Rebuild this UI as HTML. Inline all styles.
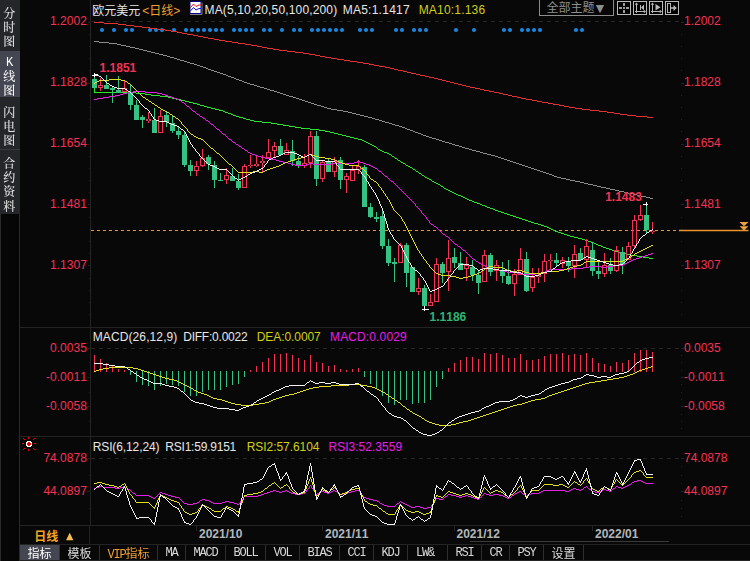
<!DOCTYPE html>
<html lang="zh-CN"><head><meta charset="utf-8"><title>欧元美元 日线</title>
<style>
html,body{margin:0;padding:0;background:#080808;}
body{width:750px;height:561px;position:relative;overflow:hidden;font-family:"Liberation Sans","Noto Sans CJK SC",sans-serif;font-size:12px;color:#e6e6e6;font-kerning:none;}
svg{position:absolute;left:0;top:0}
.t{position:absolute;white-space:nowrap;line-height:14px;height:14px}
.ax{color:#f43354;font-size:12px}
.b{font-weight:bold}
.gr{color:#2fb574}
.dt{color:#b2b6ba;font-weight:bold;font-size:12px}
.side{position:absolute;left:0;top:0;width:20px;height:561px;background:#060606;box-sizing:border-box;border-left:1px solid #2a2a2a;border-right:1px solid #2a2a2a}
.tab{position:absolute;left:0;width:20px;background:#25262a;color:#e4e4e4;font-family:"Noto Serif CJK SC","Liberation Serif",serif;font-size:12px;font-weight:500;line-height:14.2px;text-align:center;text-indent:-1.5px}
.tab>div{filter:grayscale(1)}
.tab span{display:block;height:14.2px}
.tab.sel{background:#444751;color:#fff}
.hd{position:absolute;top:1px;height:15px;line-height:15px;white-space:nowrap;font-size:12px}
.or{color:#f0a030}
.yl{color:#cfcf14}
.mg{color:#e81ee8}
.tb{position:absolute;top:545px;height:16px;line-height:16px;font-family:"Liberation Mono","Noto Serif CJK SC",monospace;font-size:12px;letter-spacing:-1.2px;color:#d8d8d8;text-align:center;box-sizing:border-box;border-right:1px solid #2e2e2e;white-space:nowrap;overflow:hidden}
.tb.cj{font-family:"Noto Sans CJK SC",sans-serif;letter-spacing:0;text-indent:0}
.g{filter:grayscale(1);display:inline-block}
.ng{filter:drop-shadow(0 0 0 transparent);display:inline-block}
.lat{font-family:"Liberation Serif",serif;letter-spacing:0}
</style></head><body>
<svg width="750" height="561" viewBox="0 0 750 561">
<line x1="91" x2="680" y1="21.5" y2="21.5" stroke="#252525" stroke-dasharray="4 4"/>
<line x1="91" x2="680" y1="348.5" y2="348.5" stroke="#252525" stroke-dasharray="4 4"/>
<line x1="91" x2="680" y1="458.5" y2="458.5" stroke="#252525" stroke-dasharray="4 4"/>
<line x1="90.5" x2="90.5" y1="0" y2="525" stroke="#232323"/>
<path d="M88 22.5h2M89 34.5h1M89 46.5h1M89 58.5h1M89 70.5h1M88 83.5h2M89 95.5h1M89 107.5h1M89 119.5h1M89 131.5h1M88 144.5h2M89 156.5h1M89 168.5h1M89 180.5h1M89 192.5h1M88 204.5h2M89 217.5h1M89 229.5h1M89 241.5h1M89 253.5h1M88 265.5h2M89 278.5h1M89 290.5h1M89 302.5h1M89 314.5h1M87 348.5h3M87 377.5h3M87 406.5h3M87 458.5h3M87 491.5h3M89 362.5h1M89 392.5h1M89 421.5h1M89 475.5h1M89 508.5h1" stroke="#1e1e1e" fill="none"/>
<path d="M681 22.5h3M681 34.5h1M681 46.5h1M681 58.5h1M681 70.5h1M681 83.5h3M681 95.5h1M681 107.5h1M681 119.5h1M681 131.5h1M681 144.5h3M681 156.5h1M681 168.5h1M681 180.5h1M681 192.5h1M681 204.5h3M681 217.5h1M681 229.5h1M681 241.5h1M681 253.5h1M681 265.5h3M681 278.5h1M681 290.5h1M681 302.5h1M681 314.5h1M681 348.5h3M681 377.5h3M681 406.5h3M681 458.5h3M681 491.5h3M681 355.5h1M681 362.5h1M681 370.5h1M681 384.5h1M681 392.5h1M681 399.5h1M681 414.5h1M681 421.5h1M681 428.5h1M681 466.5h1M681 475.5h1M681 483.5h1M681 500.5h1M681 508.5h1M681 516.5h1" stroke="#232323" fill="none"/>
<line x1="20" x2="750" y1="327.5" y2="327.5" stroke="#232323"/>
<line x1="20" x2="750" y1="436.5" y2="436.5" stroke="#232323"/>
<line x1="20" x2="750" y1="525.5" y2="525.5" stroke="#232323"/>
<line x1="20" x2="750" y1="544.5" y2="544.5" stroke="#232323"/>
<line x1="470" x2="669" y1="541.5" y2="541.5" stroke="#3a3a3a"/>
<line x1="196.5" x2="196.5" y1="526" y2="531" stroke="#232323"/>
<line x1="322.5" x2="322.5" y1="526" y2="531" stroke="#232323"/>
<line x1="454.5" x2="454.5" y1="526" y2="531" stroke="#232323"/>
<line x1="592.5" x2="592.5" y1="526" y2="531" stroke="#232323"/>
<g fill="#1a86dc"><circle cx="102" cy="30" r="2.1"/><circle cx="114" cy="30" r="2.1"/><circle cx="126" cy="30" r="2.1"/><circle cx="132" cy="30" r="2.1"/><circle cx="150" cy="30" r="2.1"/><circle cx="156" cy="30" r="2.1"/><circle cx="162" cy="30" r="2.1"/><circle cx="174" cy="30" r="2.1"/><circle cx="186" cy="30" r="2.1"/><circle cx="192" cy="30" r="2.1"/><circle cx="198" cy="30" r="2.1"/><circle cx="204" cy="30" r="2.1"/><circle cx="210" cy="30" r="2.1"/><circle cx="216" cy="30" r="2.1"/><circle cx="222" cy="30" r="2.1"/><circle cx="234" cy="30" r="2.1"/><circle cx="240" cy="30" r="2.1"/><circle cx="246" cy="30" r="2.1"/><circle cx="252" cy="30" r="2.1"/><circle cx="264" cy="30" r="2.1"/><circle cx="270" cy="30" r="2.1"/><circle cx="282" cy="30" r="2.1"/><circle cx="294" cy="30" r="2.1"/><circle cx="300" cy="30" r="2.1"/><circle cx="312" cy="30" r="2.1"/><circle cx="318" cy="30" r="2.1"/><circle cx="324" cy="30" r="2.1"/><circle cx="330" cy="30" r="2.1"/><circle cx="336" cy="30" r="2.1"/><circle cx="342" cy="30" r="2.1"/><circle cx="360" cy="30" r="2.1"/><circle cx="366" cy="30" r="2.1"/><circle cx="372" cy="30" r="2.1"/><circle cx="396" cy="30" r="2.1"/><circle cx="402" cy="30" r="2.1"/><circle cx="414" cy="30" r="2.1"/><circle cx="420" cy="30" r="2.1"/><circle cx="426" cy="30" r="2.1"/><circle cx="456" cy="30" r="2.1"/><circle cx="474" cy="30" r="2.1"/><circle cx="504" cy="30" r="2.1"/><circle cx="510" cy="30" r="2.1"/><circle cx="522" cy="30" r="2.1"/><circle cx="528" cy="30" r="2.1"/><circle cx="534" cy="30" r="2.1"/><circle cx="540" cy="30" r="2.1"/><circle cx="576" cy="30" r="2.1"/><circle cx="582" cy="30" r="2.1"/></g>
<line x1="91" x2="679" y1="230.5" y2="230.5" stroke="#e8952f" stroke-dasharray="3 3"/>
<line x1="679" x2="748.5" y1="230.5" y2="230.5" stroke="#e8952f" stroke-width="1.4"/>
<path d="M739.5 222h9l-4.5 4.2zM739.5 226.3h9l-4.5 4.2z" fill="#f0a040"/>
<g shape-rendering="crispEdges">
<path d="M403 71h4v1h-4zM232 42h6v1h-6zM309 54h6v1h-6zM320 56h5v1h-5zM150 28h7v1h-7zM267 48h6v1h-6zM279 50h8v1h-8zM245 44h6v1h-6zM494 92h5v1h-5zM575 108h7v1h-7zM620 114h7v1h-7zM636 116h11v1h-11zM590 110h9v1h-9zM182 33h5v1h-5zM94 22h10v1h-10zM385 67h5v1h-5zM363 63h6v1h-6zM325 57h6v1h-6zM438 79h4v1h-4zM647 117h6v1h-6zM118 24h8v1h-8zM599 111h8v1h-8zM126 25h8v1h-8zM398 70h5v1h-5zM369 64h5v1h-5zM569 107h6v1h-6zM548 103h5v1h-5zM208 38h6v1h-6zM177 32h5v1h-5zM134 26h8v1h-8zM521 98h5v1h-5zM142 27h8v1h-8zM157 29h8v1h-8zM104 23h14v1h-14zM251 45h6v1h-6zM499 93h4v1h-4zM480 89h4v1h-4zM462 85h4v1h-4zM219 40h6v1h-6zM295 52h8v1h-8zM484 90h5v1h-5zM564 106h5v1h-5zM442 80h4v1h-4zM532 100h5v1h-5zM425 76h4v1h-4zM607 112h7v1h-7zM193 35h5v1h-5zM171 31h6v1h-6zM238 43h7v1h-7zM374 65h5v1h-5zM203 37h5v1h-5zM350 61h7v1h-7zM446 81h4v1h-4zM627 115h9v1h-9zM344 60h6v1h-6zM407 72h4v1h-4zM357 62h6v1h-6zM537 101h5v1h-5zM165 30h6v1h-6zM411 73h5v1h-5zM466 86h4v1h-4zM429 77h5v1h-5zM273 49h6v1h-6zM489 91h5v1h-5zM614 113h6v1h-6zM470 87h5v1h-5zM582 109h8v1h-8zM187 34h6v1h-6zM450 82h4v1h-4zM553 104h6v1h-6zM503 94h5v1h-5zM214 39h5v1h-5zM225 41h7v1h-7zM337 59h7v1h-7zM394 69h4v1h-4zM331 58h6v1h-6zM315 55h5v1h-5zM475 88h5v1h-5zM390 68h4v1h-4zM526 99h6v1h-6zM508 95h4v1h-4zM559 105h5v1h-5zM198 36h5v1h-5zM542 102h6v1h-6zM512 96h5v1h-5zM454 83h4v1h-4zM257 46h5v1h-5zM434 78h4v1h-4zM287 51h8v1h-8zM303 53h6v1h-6zM379 66h6v1h-6zM458 84h4v1h-4zM262 47h5v1h-5zM420 75h5v1h-5zM416 74h4v1h-4zM517 97h4v1h-4z" fill="#e8302e"/>
<path d="M244 82h3v1h-3zM99 42h10v1h-10zM584 183h4v1h-4zM566 179h4v1h-4zM421 134h2v1h-2zM143 50h4v1h-4zM236 79h3v1h-3zM504 159h3v1h-3zM327 108h4v1h-4zM606 188h4v1h-4zM588 184h5v1h-5zM163 55h4v1h-4zM549 174h3v1h-3zM395 125h4v1h-4zM228 76h3v1h-3zM423 135h3v1h-3zM459 146h3v1h-3zM507 160h3v1h-3zM274 91h3v1h-3zM540 171h3v1h-3zM126 46h4v1h-4zM385 122h4v1h-4zM167 56h3v1h-3zM203 67h3v1h-3zM231 77h3v1h-3zM94 41h5v1h-5zM368 117h4v1h-4zM296 98h3v1h-3zM543 172h3v1h-3zM130 47h5v1h-5zM610 189h5v1h-5zM109 43h8v1h-8zM389 123h3v1h-3zM432 138h4v1h-4zM480 152h3v1h-3zM206 68h2v1h-2zM247 83h3v1h-3zM516 163h3v1h-3zM546 173h3v1h-3zM392 124h3v1h-3zM197 65h3v1h-3zM436 139h3v1h-3zM270 90h4v1h-4zM519 164h3v1h-3zM343 111h5v1h-5zM593 185h4v1h-4zM575 181h5v1h-5zM646 197h4v1h-4zM151 52h4v1h-4zM510 161h3v1h-3zM483 153h4v1h-4zM308 102h3v1h-3zM170 57h4v1h-4zM402 127h3v1h-3zM465 148h4v1h-4zM513 162h3v1h-3zM299 99h3v1h-3zM557 177h4v1h-4zM280 93h3v1h-3zM135 48h4v1h-4zM208 69h3v1h-3zM302 100h3v1h-3zM570 180h5v1h-5zM147 51h4v1h-4zM439 140h3v1h-3zM552 175h2v1h-2zM399 126h3v1h-3zM372 118h3v1h-3zM650 198h3v1h-3zM214 71h3v1h-3zM462 147h3v1h-3zM177 59h3v1h-3zM277 92h3v1h-3zM250 84h4v1h-4zM352 113h4v1h-4zM628 193h5v1h-5zM331 109h6v1h-6zM180 60h4v1h-4zM375 119h4v1h-4zM159 54h4v1h-4zM491 155h4v1h-4zM314 104h3v1h-3zM522 165h3v1h-3zM356 114h4v1h-4zM554 176h3v1h-3zM615 190h4v1h-4zM597 186h4v1h-4zM217 72h3v1h-3zM472 150h4v1h-4zM174 58h3v1h-3zM405 128h2v1h-2zM289 96h4v1h-4zM220 73h3v1h-3zM155 53h4v1h-4zM283 94h3v1h-3zM487 154h4v1h-4zM211 70h3v1h-3zM117 44h4v1h-4zM379 120h3v1h-3zM469 149h3v1h-3zM337 110h6v1h-6zM442 141h3v1h-3zM257 86h3v1h-3zM525 166h3v1h-3zM360 115h4v1h-4zM619 191h5v1h-5zM601 187h5v1h-5zM187 62h3v1h-3zM382 121h3v1h-3zM415 132h3v1h-3zM445 142h4v1h-4zM498 157h3v1h-3zM528 167h3v1h-3zM580 182h4v1h-4zM561 178h5v1h-5zM633 194h4v1h-4zM407 129h3v1h-3zM190 63h4v1h-4zM223 74h3v1h-3zM501 158h3v1h-3zM286 95h3v1h-3zM317 105h4v1h-4zM410 130h3v1h-3zM226 75h2v1h-2zM476 151h4v1h-4zM413 131h2v1h-2zM184 61h3v1h-3zM495 156h3v1h-3zM449 143h3v1h-3zM264 88h3v1h-3zM531 168h3v1h-3zM139 49h4v1h-4zM194 64h3v1h-3zM452 144h3v1h-3zM534 169h3v1h-3zM321 106h3v1h-3zM641 196h5v1h-5zM239 80h3v1h-3zM293 97h3v1h-3zM234 78h2v1h-2zM324 107h3v1h-3zM426 136h3v1h-3zM418 133h3v1h-3zM537 170h3v1h-3zM121 45h5v1h-5zM455 145h4v1h-4zM429 137h3v1h-3zM305 101h3v1h-3zM200 66h3v1h-3zM242 81h2v1h-2zM364 116h4v1h-4zM624 192h4v1h-4zM348 112h4v1h-4zM311 103h3v1h-3zM260 87h4v1h-4zM254 85h3v1h-3zM637 195h4v1h-4zM267 89h3v1h-3z" fill="#8c8c8c"/>
<path d="M94 88h1v5h-1zM469 200h3v1h-3zM283 125h6v1h-6zM168 97h4v1h-4zM461 196h2v1h-2zM389 154h2v1h-2zM541 225h3v1h-3zM243 118h3v1h-3zM95 92h41v1h-41zM419 173h2v1h-2zM319 130h6v1h-6zM277 124h6v1h-6zM391 155h1v1h-1zM454 193h2v1h-2zM382 151h2v1h-2zM254 121h8v1h-8zM350 137h4v1h-4zM334 133h4v1h-4zM551 229h2v1h-2zM465 198h2v1h-2zM456 194h2v1h-2zM384 152h3v1h-3zM189 102h4v1h-4zM578 238h4v1h-4zM160 96h8v1h-8zM510 215h3v1h-3zM211 108h4v1h-4zM301 128h9v1h-9zM458 195h3v1h-3zM622 253h4v1h-4zM631 255h6v1h-6zM387 153h2v1h-2zM450 191h2v1h-2zM378 149h2v1h-2zM136 93h9v1h-9zM310 129h9v1h-9zM193 103h4v1h-4zM555 231h3v1h-3zM380 150h2v1h-2zM250 120h4v1h-4zM637 256h6v1h-6zM467 199h2v1h-2zM145 94h6v1h-6zM364 141h2v1h-2zM446 189h2v1h-2zM295 127h6v1h-6zM151 95h9v1h-9zM416 171h2v1h-2zM547 227h2v1h-2zM338 134h4v1h-4zM262 122h9v1h-9zM585 240h3v1h-3zM472 201h2v1h-2zM513 216h3v1h-3zM412 168h1v1h-1zM246 119h4v1h-4zM358 139h4v1h-4zM413 169h2v1h-2zM487 207h3v1h-3zM516 217h3v1h-3zM558 232h3v1h-3zM219 110h4v1h-4zM289 126h6v1h-6zM603 247h3v1h-3zM480 204h2v1h-2zM490 208h3v1h-3zM408 166h2v1h-2zM561 233h3v1h-3zM441 186h2v1h-2zM596 244h2v1h-2zM370 144h2v1h-2zM626 254h5v1h-5zM482 205h3v1h-3zM525 220h3v1h-3zM172 98h4v1h-4zM588 241h3v1h-3zM598 245h3v1h-3zM474 202h3v1h-3zM528 221h3v1h-3zM176 99h5v1h-5zM374 146h2v1h-2zM438 184h2v1h-2zM591 242h3v1h-3zM366 142h2v1h-2zM477 203h3v1h-3zM519 218h3v1h-3zM368 143h2v1h-2zM493 209h2v1h-2zM403 163h2v1h-2zM522 219h3v1h-3zM564 234h3v1h-3zM225 112h3v1h-3zM434 182h2v1h-2zM362 140h2v1h-2zM200 105h4v1h-4zM567 235h3v1h-3zM342 135h4v1h-4zM325 131h5v1h-5zM498 211h3v1h-3zM181 100h4v1h-4zM400 161h1v1h-1zM427 178h2v1h-2zM231 114h2v1h-2zM204 106h3v1h-3zM643 257h6v1h-6zM401 162h2v1h-2zM185 101h4v1h-4zM606 248h3v1h-3zM531 222h3v1h-3zM429 179h2v1h-2zM233 115h3v1h-3zM570 236h4v1h-4zM346 136h4v1h-4zM609 249h3v1h-3zM495 210h3v1h-3zM207 107h4v1h-4zM425 177h2v1h-2zM228 113h3v1h-3zM501 212h3v1h-3zM534 223h4v1h-4zM422 175h2v1h-2zM538 224h3v1h-3zM271 123h6v1h-6zM239 117h4v1h-4zM395 158h2v1h-2zM215 109h4v1h-4zM574 237h4v1h-4zM452 192h2v1h-2zM649 258h4v1h-4zM504 213h3v1h-3zM392 156h2v1h-2zM618 252h4v1h-4zM236 116h3v1h-3zM330 132h4v1h-4zM549 228h2v1h-2zM354 138h4v1h-4zM507 214h3v1h-3zM448 190h2v1h-2zM612 250h3v1h-3zM377 148h1v1h-1zM553 230h2v1h-2zM544 226h3v1h-3zM615 251h3v1h-3zM444 188h2v1h-2zM418 172h1v1h-1zM582 239h3v1h-3zM410 167h2v1h-2zM197 104h3v1h-3zM463 197h2v1h-2zM376 147h1v1h-1zM406 165h2v1h-2zM440 185h1v1h-1zM594 243h2v1h-2zM443 187h1v1h-1zM372 145h2v1h-2zM436 183h2v1h-2zM223 111h2v1h-2zM431 180h1v1h-1zM432 181h2v1h-2zM405 164h1v1h-1zM601 246h2v1h-2zM398 160h2v1h-2zM424 176h1v1h-1zM397 159h1v1h-1zM394 157h1v1h-1zM415 170h1v1h-1zM485 206h2v1h-2zM421 174h1v1h-1z" fill="#24ea24"/>
</g>
<path d="M94 73h1v15h-1zM92 79h5v9h-5zM106 75h1v14h-1zM104 85h5v4h-5zM112 87h1v16h-1zM110 88h5v2h-5zM118 76h1v17h-1zM116 90h5v3h-5zM130 85h1v25h-1zM128 92h5v13h-5zM136 100h1v20h-1zM134 105h5v15h-5zM142 115h1v13h-1zM140 117h5v3h-5zM154 108h1v25h-1zM152 120h5v13h-5zM166 112h1v15h-1zM164 115h5v7h-5zM172 116h1v17h-1zM170 123h5v8h-5zM178 127h1v12h-1zM176 131h5v4h-5zM184 132h1v35h-1zM182 135h5v30h-5zM190 160h1v16h-1zM188 165h5v6h-5zM208 155h1v15h-1zM206 157h5v7h-5zM214 161h1v27h-1zM212 165h5v15h-5zM220 173h1v8h-1zM218 180h5v1h-5zM232 168h1v13h-1zM230 176h5v5h-5zM238 174h1v16h-1zM236 181h5v7h-5zM280 139h1v16h-1zM278 146h5v9h-5zM292 140h1v26h-1zM290 151h5v10h-5zM298 156h1v12h-1zM296 161h5v4h-5zM316 131h1v55h-1zM314 136h5v43h-5zM328 159h1v13h-1zM326 161h5v11h-5zM340 157h1v32h-1zM338 160h5v20h-5zM364 165h1v42h-1zM362 167h5v40h-5zM370 203h1v15h-1zM368 207h5v10h-5zM376 212h1v10h-1zM374 217h5v2h-5zM382 210h1v39h-1zM380 216h5v30h-5zM388 239h1v27h-1zM386 246h5v17h-5zM394 258h1v24h-1zM392 262h5v2h-5zM406 243h1v44h-1zM404 245h5v28h-5zM412 267h1v25h-1zM410 267h5v25h-5zM424 285h1v24h-1zM422 288h5v18h-5zM442 262h1v21h-1zM440 264h5v9h-5zM454 248h1v20h-1zM452 257h5v6h-5zM460 252h1v18h-1zM458 263h5v7h-5zM472 260h1v21h-1zM470 267h5v8h-5zM478 270h1v24h-1zM476 275h5v8h-5zM490 253h1v23h-1zM488 255h5v17h-5zM502 262h1v21h-1zM500 270h5v6h-5zM508 260h1v25h-1zM506 276h5v8h-5zM526 252h1v40h-1zM524 259h5v32h-5zM556 253h1v14h-1zM554 260h5v3h-5zM568 257h1v15h-1zM566 261h5v5h-5zM580 248h1v13h-1zM578 253h5v7h-5zM592 242h1v34h-1zM590 250h5v21h-5zM598 262h1v17h-1zM596 271h5v3h-5zM610 258h1v16h-1zM608 265h5v6h-5zM622 247h1v27h-1zM620 252h5v12h-5zM646 204h1v29h-1zM644 215h5v15h-5z" fill="#35c383" shape-rendering="crispEdges"/>
<path d="M100 78h1v7h-1zM100 88h1v3h-1zM98 85h5v3h-5zM99 86v1h3v-1zM124 81h1v7h-1zM122 88h5v4h-5zM123 89v2h3v-2zM148 112h1v11h-1zM146 119h5v2h-5zM160 110h1v6h-1zM158 116h5v17h-5zM159 117v15h3v-15zM196 161h1v5h-1zM196 171h1v5h-1zM194 166h5v5h-5zM195 167v3h3v-3zM202 149h1v9h-1zM202 166h1v1h-1zM200 158h5v8h-5zM201 159v6h3v-6zM226 168h1v7h-1zM226 180h1v4h-1zM224 175h5v5h-5zM225 176v3h3v-3zM244 164h1v2h-1zM242 166h5v22h-5zM243 167v20h3v-20zM250 155h1v13h-1zM248 165h5v1h-5zM256 156h1v11h-1zM254 164h5v2h-5zM262 155h1v17h-1zM260 161h5v2h-5zM268 139h1v13h-1zM266 152h5v6h-5zM267 153v4h3v-4zM274 142h1v4h-1zM274 151h1v6h-1zM272 146h5v5h-5zM273 147v3h3v-3zM286 143h1v7h-1zM284 150h5v5h-5zM285 151v3h3v-3zM304 154h1v9h-1zM304 166h1v2h-1zM302 163h5v3h-5zM303 164v1h3v-1zM310 131h1v5h-1zM310 163h1v5h-1zM308 136h5v27h-5zM309 137v25h3v-25zM322 161h1v1h-1zM322 179h1v3h-1zM320 162h5v17h-5zM321 163v15h3v-15zM334 157h1v4h-1zM334 172h1v5h-1zM332 161h5v11h-5zM333 162v9h3v-9zM346 173h1v3h-1zM346 180h1v13h-1zM344 176h5v4h-5zM345 177v2h3v-2zM352 166h1v4h-1zM350 170h5v11h-5zM351 171v9h3v-9zM358 160h1v6h-1zM358 170h1v4h-1zM356 166h5v4h-5zM357 167v2h3v-2zM400 243h1v2h-1zM398 245h5v18h-5zM399 246v16h3v-16zM418 278h1v10h-1zM418 292h1v3h-1zM416 288h5v4h-5zM417 289v2h3v-2zM430 294h1v8h-1zM428 302h5v4h-5zM429 303v2h3v-2zM436 258h1v6h-1zM434 264h5v38h-5zM435 265v36h3v-36zM448 240h1v18h-1zM448 272h1v19h-1zM446 258h5v14h-5zM447 259v12h3v-12zM466 257h1v8h-1zM466 269h1v12h-1zM464 265h5v4h-5zM465 266v2h3v-2zM484 250h1v5h-1zM482 255h5v27h-5zM483 256v25h3v-25zM496 260h1v5h-1zM496 271h1v10h-1zM494 265h5v6h-5zM495 266v4h3v-4zM514 269h1v5h-1zM514 284h1v12h-1zM512 274h5v10h-5zM513 275v8h3v-8zM520 248h1v11h-1zM518 259h5v16h-5zM519 260v14h3v-14zM532 268h1v9h-1zM532 288h1v4h-1zM530 277h5v11h-5zM531 278v9h3v-9zM538 268h1v15h-1zM536 275h5v2h-5zM544 254h1v7h-1zM544 274h1v8h-1zM542 261h5v13h-5zM543 262v11h3v-11zM550 254h1v16h-1zM548 260h5v1h-5zM562 257h1v3h-1zM562 264h1v4h-1zM560 260h5v4h-5zM561 261v2h3v-2zM574 245h1v9h-1zM574 266h1v12h-1zM572 254h5v12h-5zM573 255v10h3v-10zM586 239h1v7h-1zM586 260h1v7h-1zM584 246h5v14h-5zM585 247v12h3v-12zM604 253h1v12h-1zM604 274h1v3h-1zM602 265h5v9h-5zM603 266v7h3v-7zM616 246h1v4h-1zM616 271h1v1h-1zM614 250h5v21h-5zM615 251v19h3v-19zM628 242h1v4h-1zM626 246h5v14h-5zM627 247v12h3v-12zM634 215h1v5h-1zM634 246h1v3h-1zM632 220h5v26h-5zM633 221v24h3v-24zM640 205h1v10h-1zM640 220h1v1h-1zM638 215h5v5h-5zM639 216v3h3v-3zM652 222h1v12h-1zM650 231h5v1h-5z" fill="#f43354" fill-rule="evenodd" shape-rendering="crispEdges"/>
<g shape-rendering="crispEdges">
<path d="M415 204h1v2h-1zM421 211h1v2h-1zM426 217h1v2h-1zM429 221h1v2h-1zM115 95h5v1h-5zM165 95h3v1h-3zM517 273h6v1h-6zM535 273h6v1h-6zM123 93h4v1h-4zM157 93h5v1h-5zM295 165h11v1h-11zM369 165h2v1h-2zM489 268h4v1h-4zM571 268h12v1h-12zM523 274h12v1h-12zM441 232h1v1h-1zM120 94h3v1h-3zM162 94h3v1h-3zM452 241h1v1h-1zM288 163h3v1h-3zM309 163h4v1h-4zM331 163h23v1h-23zM363 163h3v1h-3zM258 156h3v1h-3zM423 214h1v1h-1zM197 114h2v1h-2zM382 173h1v1h-1zM504 271h3v1h-3zM545 271h2v1h-2zM200 116h2v1h-2zM453 242h1v1h-1zM483 265h2v1h-2zM613 265h10v1h-10zM127 92h6v1h-6zM145 92h12v1h-12zM485 266h2v1h-2zM589 266h12v1h-12zM607 266h6v1h-6zM394 183h1v1h-1zM94 99h3v1h-3zM177 99h2v1h-2zM261 157h4v1h-4zM467 253h1v1h-1zM651 253h2v1h-2zM493 269h6v1h-6zM549 269h22v1h-22zM478 262h1v1h-1zM627 262h2v1h-2zM469 255h1v1h-1zM645 255h3v1h-3zM487 267h2v1h-2zM583 267h6v1h-6zM601 267h6v1h-6zM109 96h6v1h-6zM168 96h3v1h-3zM252 154h3v1h-3zM479 263h2v1h-2zM625 263h2v1h-2zM245 150h2v1h-2zM291 164h4v1h-4zM306 164h3v1h-3zM313 164h18v1h-18zM366 164h3v1h-3zM276 160h3v1h-3zM283 162h5v1h-5zM354 162h3v1h-3zM360 162h3v1h-3zM476 261h2v1h-2zM629 261h2v1h-2zM103 97h6v1h-6zM171 97h3v1h-3zM255 155h3v1h-3zM481 264h2v1h-2zM623 264h2v1h-2zM133 91h12v1h-12zM242 148h2v1h-2zM378 170h1v1h-1zM223 134h2v1h-2zM265 158h6v1h-6zM393 182h1v1h-1zM179 100h2v1h-2zM279 161h4v1h-4zM357 161h3v1h-3zM468 254h1v1h-1zM648 254h3v1h-3zM400 189h1v1h-1zM182 102h2v1h-2zM97 98h6v1h-6zM174 98h3v1h-3zM422 213h1v1h-1zM463 250h2v1h-2zM473 259h2v1h-2zM633 259h3v1h-3zM407 196h1v1h-1zM211 124h2v1h-2zM408 197h1v1h-1zM472 258h1v1h-1zM636 258h3v1h-3zM507 272h10v1h-10zM541 272h4v1h-4zM238 145h1v1h-1zM373 167h2v1h-2zM385 176h2v1h-2zM388 178h1v1h-1zM470 256h1v1h-1zM642 256h3v1h-3zM436 227h1v1h-1zM389 179h1v1h-1zM437 228h1v1h-1zM448 237h1v1h-1zM208 121h1v1h-1zM189 107h1v1h-1zM203 118h2v1h-2zM233 142h2v1h-2zM458 246h2v1h-2zM499 270h5v1h-5zM547 270h2v1h-2zM414 203h1v1h-1zM229 139h2v1h-2zM248 152h2v1h-2zM206 120h2v1h-2zM217 129h2v1h-2zM446 236h2v1h-2zM271 159h5v1h-5zM219 130h1v1h-1zM443 234h2v1h-2zM454 243h1v1h-1zM384 175h1v1h-1zM431 224h2v1h-2zM395 184h1v1h-1zM471 257h1v1h-1zM639 257h3v1h-3zM402 191h1v1h-1zM185 104h1v1h-1zM187 106h2v1h-2zM424 215h1v1h-1zM199 115h1v1h-1zM250 153h2v1h-2zM425 216h1v1h-1zM244 149h1v1h-1zM247 151h1v1h-1zM214 126h1v1h-1zM239 146h2v1h-2zM416 206h1v1h-1zM417 207h1v1h-1zM184 103h1v1h-1zM379 171h2v1h-2zM390 180h1v1h-1zM391 181h2v1h-2zM475 260h1v1h-1zM631 260h2v1h-2zM210 123h1v1h-1zM213 125h1v1h-1zM465 251h1v1h-1zM409 198h1v1h-1zM193 111h2v1h-2zM225 135h1v1h-1zM401 190h1v1h-1zM195 112h1v1h-1zM438 229h1v1h-1zM449 238h1v1h-1zM427 219h1v1h-1zM371 166h2v1h-2zM235 143h1v1h-1zM375 168h2v1h-2zM209 122h1v1h-1zM220 131h1v1h-1zM190 108h1v1h-1zM433 225h1v1h-1zM434 226h2v1h-2zM397 186h1v1h-1zM445 235h1v1h-1zM205 119h1v1h-1zM231 140h1v1h-1zM419 209h1v1h-1zM460 247h1v1h-1zM404 193h1v1h-1zM455 244h2v1h-2zM396 185h1v1h-1zM215 127h1v1h-1zM216 128h1v1h-1zM227 137h1v1h-1zM403 192h1v1h-1zM186 105h1v1h-1zM440 231h1v1h-1zM410 199h1v1h-1zM381 172h1v1h-1zM411 200h1v1h-1zM466 252h1v1h-1zM418 208h1v1h-1zM196 113h1v1h-1zM241 147h1v1h-1zM428 220h1v1h-1zM222 133h1v1h-1zM181 101h1v1h-1zM236 144h2v1h-2zM226 136h1v1h-1zM439 230h1v1h-1zM377 169h1v1h-1zM450 239h1v1h-1zM461 248h1v1h-1zM451 240h1v1h-1zM462 249h1v1h-1zM191 109h1v1h-1zM192 110h1v1h-1zM398 187h1v1h-1zM399 188h1v1h-1zM221 132h1v1h-1zM232 141h1v1h-1zM406 195h1v1h-1zM457 245h1v1h-1zM387 177h1v1h-1zM420 210h1v1h-1zM405 194h1v1h-1zM430 223h1v1h-1zM202 117h1v1h-1zM442 233h1v1h-1zM412 201h1v1h-1zM383 174h1v1h-1zM413 202h1v1h-1zM228 138h1v1h-1z" fill="#e81ee8"/>
<path d="M414 242h1v2h-1zM411 236h1v2h-1zM378 184h1v2h-1zM407 228h1v2h-1zM429 265h1v2h-1zM381 188h1v2h-1zM410 234h1v2h-1zM385 194h1v2h-1zM366 172h1v2h-1zM406 226h1v2h-1zM402 219h1v2h-1zM181 122h1v2h-1zM392 206h1v2h-1zM409 232h1v2h-1zM369 176h1v2h-1zM383 191h1v2h-1zM391 204h1v2h-1zM405 224h1v2h-1zM426 261h1v2h-1zM416 246h1v2h-1zM387 197h1v2h-1zM408 230h1v2h-1zM390 202h1v2h-1zM401 217h1v2h-1zM404 222h1v2h-1zM419 251h1v2h-1zM393 208h1v2h-1zM415 244h1v2h-1zM389 200h1v2h-1zM417 248h1v2h-1zM421 254h1v2h-1zM423 257h1v2h-1zM413 240h1v2h-1zM187 129h1v2h-1zM412 238h1v2h-1zM97 81h2v1h-2zM125 81h2v1h-2zM489 266h4v1h-4zM573 266h4v1h-4zM226 161h1v1h-1zM288 161h3v1h-3zM337 161h2v1h-2zM227 162h1v1h-1zM285 162h3v1h-3zM339 162h3v1h-3zM434 271h1v1h-1zM481 271h1v1h-1zM511 271h6v1h-6zM522 271h3v1h-3zM547 271h12v1h-12zM99 80h10v1h-10zM121 80h4v1h-4zM233 167h1v1h-1zM273 167h3v1h-3zM360 167h1v1h-1zM224 159h1v1h-1zM294 159h3v1h-3zM331 159h4v1h-4zM436 273h2v1h-2zM477 273h2v1h-2zM529 273h12v1h-12zM235 169h1v1h-1zM267 169h3v1h-3zM363 169h1v1h-1zM430 267h1v1h-1zM487 267h2v1h-2zM493 267h10v1h-10zM570 267h3v1h-3zM634 254h1v1h-1zM438 274h3v1h-3zM474 274h3v1h-3zM586 261h37v1h-37zM189 132h1v1h-1zM441 275h10v1h-10zM471 275h3v1h-3zM584 262h2v1h-2zM435 272h1v1h-1zM479 272h2v1h-2zM525 272h4v1h-4zM541 272h6v1h-6zM190 133h1v1h-1zM237 171h1v1h-1zM253 171h6v1h-6zM263 171h2v1h-2zM365 171h1v1h-1zM231 165h1v1h-1zM279 165h2v1h-2zM349 165h10v1h-10zM433 270h1v1h-1zM482 270h2v1h-2zM507 270h4v1h-4zM517 270h5v1h-5zM559 270h5v1h-5zM211 148h2v1h-2zM109 79h12v1h-12zM175 117h1v1h-1zM238 172h15v1h-15zM259 172h4v1h-4zM223 158h1v1h-1zM297 158h4v1h-4zM325 158h6v1h-6zM431 268h1v1h-1zM485 268h2v1h-2zM503 268h2v1h-2zM567 268h3v1h-3zM228 163h1v1h-1zM283 163h2v1h-2zM342 163h3v1h-3zM232 166h1v1h-1zM276 166h3v1h-3zM359 166h1v1h-1zM425 260h1v1h-1zM623 260h2v1h-2zM182 124h1v1h-1zM424 259h1v1h-1zM625 259h2v1h-2zM143 97h2v1h-2zM451 276h5v1h-5zM468 276h3v1h-3zM145 98h1v1h-1zM208 145h1v1h-1zM382 190h1v1h-1zM222 157h1v1h-1zM301 157h4v1h-4zM319 157h6v1h-6zM367 174h1v1h-1zM221 156h1v1h-1zM305 156h2v1h-2zM315 156h4v1h-4zM649 246h2v1h-2zM374 181h2v1h-2zM217 153h2v1h-2zM456 277h3v1h-3zM463 277h5v1h-5zM229 164h2v1h-2zM281 164h2v1h-2zM345 164h4v1h-4zM219 154h1v1h-1zM309 154h3v1h-3zM170 114h2v1h-2zM163 110h2v1h-2zM428 264h1v1h-1zM581 264h2v1h-2zM133 87h1v1h-1zM236 170h1v1h-1zM265 170h2v1h-2zM364 170h1v1h-1zM399 215h1v1h-1zM165 111h2v1h-2zM167 112h2v1h-2zM403 221h1v1h-1zM373 180h1v1h-1zM140 94h1v1h-1zM645 248h2v1h-2zM432 269h1v1h-1zM484 269h1v1h-1zM505 269h2v1h-2zM564 269h3v1h-3zM141 95h1v1h-1zM418 250h1v1h-1zM641 250h2v1h-2zM95 82h2v1h-2zM127 82h1v1h-1zM225 160h1v1h-1zM291 160h3v1h-3zM335 160h2v1h-2zM459 278h4v1h-4zM214 150h1v1h-1zM220 155h1v1h-1zM307 155h2v1h-2zM312 155h3v1h-3zM94 83h1v1h-1zM128 83h2v1h-2zM180 121h1v1h-1zM158 107h2v1h-2zM632 255h2v1h-2zM234 168h1v1h-1zM270 168h3v1h-3zM361 168h2v1h-2zM427 263h1v1h-1zM583 263h1v1h-1zM151 102h1v1h-1zM203 140h1v1h-1zM637 252h2v1h-2zM154 104h1v1h-1zM629 257h2v1h-2zM380 187h1v1h-1zM155 105h2v1h-2zM384 193h1v1h-1zM198 138h3v1h-3zM191 134h2v1h-2zM210 147h1v1h-1zM213 149h1v1h-1zM201 139h2v1h-2zM194 136h2v1h-2zM577 265h4v1h-4zM394 210h1v1h-1zM647 247h2v1h-2zM172 115h1v1h-1zM184 126h1v1h-1zM173 116h2v1h-2zM146 99h2v1h-2zM176 118h2v1h-2zM135 89h1v1h-1zM651 245h2v1h-2zM149 101h2v1h-2zM183 125h1v1h-1zM209 146h1v1h-1zM643 249h2v1h-2zM386 196h1v1h-1zM134 88h1v1h-1zM368 175h1v1h-1zM639 251h2v1h-2zM400 216h1v1h-1zM160 108h1v1h-1zM142 96h1v1h-1zM422 256h1v1h-1zM631 256h1v1h-1zM420 253h1v1h-1zM635 253h2v1h-2zM627 258h2v1h-2zM371 179h2v1h-2zM215 151h1v1h-1zM216 152h1v1h-1zM370 178h1v1h-1zM152 103h2v1h-2zM204 141h1v1h-1zM196 137h2v1h-2zM185 127h1v1h-1zM395 211h1v1h-1zM186 128h1v1h-1zM130 84h1v1h-1zM388 199h1v1h-1zM396 212h1v1h-1zM193 135h1v1h-1zM137 91h1v1h-1zM178 119h1v1h-1zM136 90h1v1h-1zM148 100h1v1h-1zM377 183h1v1h-1zM169 113h1v1h-1zM161 109h2v1h-2zM206 143h1v1h-1zM376 182h1v1h-1zM188 131h1v1h-1zM207 144h1v1h-1zM132 86h1v1h-1zM398 214h1v1h-1zM139 93h1v1h-1zM205 142h1v1h-1zM131 85h1v1h-1zM157 106h1v1h-1zM397 213h1v1h-1zM179 120h1v1h-1zM379 186h1v1h-1zM138 92h1v1h-1z" fill="#e0e01a"/>
<path d="M385 218h1v3h-1zM375 193h1v2h-1zM444 283h1v2h-1zM639 239h1v2h-1zM389 230h1v2h-1zM402 248h1v2h-1zM382 208h1v3h-1zM189 140h1v2h-1zM635 246h1v2h-1zM403 250h1v2h-1zM190 142h1v2h-1zM428 287h1v2h-1zM392 235h1v2h-1zM447 279h1v2h-1zM336 163h1v2h-1zM388 228h1v2h-1zM638 241h1v2h-1zM381 206h1v2h-1zM186 134h1v2h-1zM425 281h1v2h-1zM264 165h1v2h-1zM405 254h1v2h-1zM192 145h1v2h-1zM427 285h1v2h-1zM630 254h1v2h-1zM185 132h1v2h-1zM420 274h1v2h-1zM376 195h1v2h-1zM423 278h1v2h-1zM384 214h1v4h-1zM139 101h1v2h-1zM267 161h1v2h-1zM387 224h1v4h-1zM390 232h1v2h-1zM339 167h1v2h-1zM383 211h1v3h-1zM188 138h1v2h-1zM629 256h1v2h-1zM380 204h1v2h-1zM187 136h1v2h-1zM195 149h1v2h-1zM361 172h1v2h-1zM401 246h1v2h-1zM633 249h1v2h-1zM426 283h1v2h-1zM393 237h1v2h-1zM379 201h1v3h-1zM429 289h1v2h-1zM408 260h1v2h-1zM632 251h1v2h-1zM636 244h1v2h-1zM411 265h1v2h-1zM407 258h1v2h-1zM149 111h1v2h-1zM378 199h1v2h-1zM410 263h1v2h-1zM406 256h1v2h-1zM366 179h1v2h-1zM151 114h1v2h-1zM369 184h1v2h-1zM377 197h1v2h-1zM199 154h1v2h-1zM365 177h1v2h-1zM373 190h1v2h-1zM450 275h1v2h-1zM386 221h1v3h-1zM453 271h1v2h-1zM404 252h1v2h-1zM368 182h1v2h-1zM153 117h1v2h-1zM371 187h1v2h-1zM201 157h1v1h-1zM273 157h3v1h-3zM303 157h2v1h-2zM313 157h1v1h-1zM159 121h8v1h-8zM581 259h2v1h-2zM594 259h3v1h-3zM627 259h1v1h-1zM197 152h1v1h-1zM285 152h9v1h-9zM413 268h1v1h-1zM456 268h1v1h-1zM475 268h2v1h-2zM483 268h10v1h-10zM553 268h2v1h-2zM460 264h9v1h-9zM559 264h1v1h-1zM609 264h4v1h-4zM619 264h4v1h-4zM451 274h1v1h-1zM523 274h1v1h-1zM539 274h2v1h-2zM571 260h10v1h-10zM597 260h3v1h-3zM626 260h1v1h-1zM104 80h1v1h-1zM215 167h2v1h-2zM263 167h1v1h-1zM399 244h1v1h-1zM145 108h2v1h-2zM524 275h2v1h-2zM535 275h4v1h-4zM202 158h1v1h-1zM271 158h2v1h-2zM314 158h1v1h-1zM414 269h1v1h-1zM455 269h1v1h-1zM477 269h1v1h-1zM480 269h3v1h-3zM493 269h6v1h-6zM552 269h1v1h-1zM208 164h2v1h-2zM265 164h1v1h-1zM565 261h6v1h-6zM600 261h3v1h-3zM625 261h1v1h-1zM231 174h1v1h-1zM248 174h2v1h-2zM362 174h1v1h-1zM130 92h1v1h-1zM418 272h1v1h-1zM513 272h8v1h-8zM543 272h4v1h-4zM421 276h1v1h-1zM526 276h9v1h-9zM200 156h1v1h-1zM276 156h3v1h-3zM301 156h2v1h-2zM305 156h2v1h-2zM312 156h1v1h-1zM583 258h1v1h-1zM591 258h3v1h-3zM628 258h1v1h-1zM219 169h8v1h-8zM259 169h2v1h-2zM340 169h19v1h-19zM181 129h2v1h-2zM210 165h3v1h-3zM337 165h1v1h-1zM117 88h8v1h-8zM650 230h2v1h-2zM412 267h1v1h-1zM457 267h1v1h-1zM474 267h1v1h-1zM555 267h1v1h-1zM137 99h1v1h-1zM631 253h1v1h-1zM125 89h2v1h-2zM169 123h2v1h-2zM138 100h1v1h-1zM584 257h2v1h-2zM588 257h3v1h-3zM432 290h3v1h-3zM204 160h1v1h-1zM268 160h1v1h-1zM316 160h9v1h-9zM171 124h3v1h-3zM409 262h1v1h-1zM562 262h3v1h-3zM603 262h3v1h-3zM624 262h1v1h-1zM205 161h1v1h-1zM325 161h10v1h-10zM174 125h3v1h-3zM560 263h2v1h-2zM606 263h3v1h-3zM623 263h1v1h-1zM233 176h1v1h-1zM245 176h2v1h-2zM364 176h1v1h-1zM193 147h1v1h-1zM415 270h2v1h-2zM454 270h1v1h-1zM478 270h2v1h-2zM499 270h11v1h-11zM551 270h1v1h-1zM167 122h2v1h-2zM99 76h2v1h-2zM235 178h2v1h-2zM241 178h2v1h-2zM227 170h1v1h-1zM257 170h2v1h-2zM359 170h1v1h-1zM419 273h1v1h-1zM452 273h1v1h-1zM521 273h2v1h-2zM541 273h2v1h-2zM279 155h2v1h-2zM299 155h2v1h-2zM307 155h2v1h-2zM311 155h1v1h-1zM228 171h1v1h-1zM255 171h2v1h-2zM360 171h1v1h-1zM94 74h2v1h-2zM114 87h3v1h-3zM391 234h1v1h-1zM645 234h1v1h-1zM229 172h1v1h-1zM252 172h3v1h-3zM634 248h1v1h-1zM417 271h1v1h-1zM510 271h3v1h-3zM547 271h4v1h-4zM96 75h3v1h-3zM177 126h2v1h-2zM230 173h1v1h-1zM250 173h2v1h-2zM395 240h1v1h-1zM110 85h2v1h-2zM281 154h2v1h-2zM297 154h2v1h-2zM309 154h2v1h-2zM641 237h1v1h-1zM443 285h1v1h-1zM424 280h1v1h-1zM394 239h1v1h-1zM140 103h1v1h-1zM112 86h2v1h-2zM234 177h1v1h-1zM243 177h2v1h-2zM203 159h1v1h-1zM269 159h2v1h-2zM315 159h1v1h-1zM458 266h1v1h-1zM473 266h1v1h-1zM556 266h1v1h-1zM106 82h1v1h-1zM156 120h3v1h-3zM459 265h1v1h-1zM469 265h4v1h-4zM557 265h2v1h-2zM613 265h6v1h-6zM191 144h1v1h-1zM446 281h1v1h-1zM132 94h1v1h-1zM422 277h1v1h-1zM449 277h1v1h-1zM649 231h1v1h-1zM430 291h2v1h-2zM586 256h2v1h-2zM439 287h2v1h-2zM154 119h2v1h-2zM237 179h1v1h-1zM239 179h2v1h-2zM398 243h1v1h-1zM637 243h1v1h-1zM147 109h1v1h-1zM184 131h1v1h-1zM105 81h1v1h-1zM127 90h1v1h-1zM441 286h2v1h-2zM128 91h2v1h-2zM213 166h2v1h-2zM338 166h1v1h-1zM232 175h1v1h-1zM247 175h1v1h-1zM363 175h1v1h-1zM183 130h1v1h-1zM194 148h1v1h-1zM101 77h1v1h-1zM437 288h2v1h-2zM640 238h1v1h-1zM179 127h1v1h-1zM445 282h1v1h-1zM207 163h1v1h-1zM266 163h1v1h-1zM643 235h2v1h-2zM198 153h1v1h-1zM283 153h2v1h-2zM294 153h3v1h-3zM647 232h2v1h-2zM396 241h1v1h-1zM142 105h1v1h-1zM448 278h1v1h-1zM435 289h2v1h-2zM134 96h1v1h-1zM141 104h1v1h-1zM107 83h2v1h-2zM217 168h2v1h-2zM261 168h2v1h-2zM133 95h1v1h-1zM196 151h1v1h-1zM238 180h1v1h-1zM367 181h1v1h-1zM148 110h1v1h-1zM152 116h1v1h-1zM370 186h1v1h-1zM642 236h1v1h-1zM144 107h1v1h-1zM102 78h1v1h-1zM143 106h1v1h-1zM103 79h1v1h-1zM206 162h1v1h-1zM335 162h1v1h-1zM180 128h1v1h-1zM397 242h1v1h-1zM135 97h1v1h-1zM136 98h1v1h-1zM150 113h1v1h-1zM372 189h1v1h-1zM652 229h1v1h-1zM109 84h1v1h-1zM131 93h1v1h-1zM400 245h1v1h-1zM374 192h1v1h-1zM646 233h1v1h-1z" fill="#f0f0f0"/>
</g>
<path d="M92 75.5h4M94.5 73v4M95 74.5h3M643 204.5h5M646.5 202v4M422 309.5h7M424.5 306v5" stroke="#fff" fill="none" shape-rendering="crispEdges"/>
<path d="M130 371h1v4h-1zM136 371h1v11h-1zM142 371h1v14h-1zM148 371h1v15h-1zM154 371h1v19h-1zM160 371h1v15h-1zM166 371h1v13h-1zM172 371h1v14h-1zM178 371h1v15h-1zM184 371h1v21h-1zM190 371h1v25h-1zM196 371h1v25h-1zM202 371h1v21h-1zM208 371h1v19h-1zM214 371h1v19h-1zM220 371h1v19h-1zM226 371h1v16h-1zM232 371h1v14h-1zM238 371h1v13h-1zM244 371h1v6h-1zM364 371h1v6h-1zM370 371h1v13h-1zM376 371h1v17h-1zM382 371h1v25h-1zM388 371h1v32h-1zM394 371h1v34h-1zM400 371h1v29h-1zM406 371h1v29h-1zM412 371h1v33h-1zM418 371h1v32h-1zM424 371h1v32h-1zM430 371h1v29h-1zM436 371h1v16h-1zM442 371h1v8h-1z" fill="#35c383" shape-rendering="crispEdges"/>
<path d="M94 355h1v17h-1zM100 359h1v13h-1zM106 363h1v9h-1zM112 366h1v6h-1zM118 369h1v3h-1zM124 370h1v2h-1zM250 370h1v2h-1zM256 366h1v6h-1zM262 362h1v10h-1zM268 358h1v14h-1zM274 354h1v18h-1zM280 354h1v18h-1zM286 353h1v19h-1zM292 355h1v17h-1zM298 358h1v14h-1zM304 360h1v12h-1zM310 355h1v17h-1zM316 362h1v10h-1zM322 363h1v9h-1zM328 366h1v6h-1zM334 365h1v7h-1zM340 369h1v3h-1zM346 370h1v2h-1zM352 369h1v3h-1zM358 368h1v4h-1zM448 368h1v4h-1zM454 363h1v9h-1zM460 360h1v12h-1zM466 357h1v15h-1zM472 357h1v15h-1zM478 359h1v13h-1zM484 353h1v19h-1zM490 354h1v18h-1zM496 353h1v19h-1zM502 355h1v17h-1zM508 358h1v14h-1zM514 358h1v14h-1zM520 354h1v18h-1zM526 360h1v12h-1zM532 360h1v12h-1zM538 359h1v13h-1zM544 356h1v16h-1zM550 354h1v18h-1zM556 354h1v18h-1zM562 353h1v19h-1zM568 355h1v17h-1zM574 354h1v18h-1zM580 355h1v17h-1zM586 353h1v19h-1zM592 358h1v14h-1zM598 363h1v9h-1zM604 364h1v8h-1zM610 366h1v6h-1zM616 362h1v10h-1zM622 363h1v9h-1zM628 360h1v12h-1zM634 353h1v19h-1zM640 350h1v22h-1zM646 350h1v22h-1zM652 352h1v20h-1z" fill="#f43354" shape-rendering="crispEdges"/>
<g shape-rendering="crispEdges">
<path d="M241 405h12v1h-12zM402 405h1v1h-1zM513 405h4v1h-4zM217 399h5v1h-5zM273 399h3v1h-3zM394 399h1v1h-1zM535 399h6v1h-6zM179 382h2v1h-2zM589 382h6v1h-6zM407 409h2v1h-2zM501 409h3v1h-3zM651 366h2v1h-2zM435 424h4v1h-4zM451 424h5v1h-5zM185 385h2v1h-2zM331 385h18v1h-18zM361 385h6v1h-6zM579 385h3v1h-3zM162 377h3v1h-3zM619 377h5v1h-5zM187 386h2v1h-2zM319 386h12v1h-12zM367 386h5v1h-5zM576 386h3v1h-3zM410 411h2v1h-2zM495 411h3v1h-3zM422 418h2v1h-2zM474 418h3v1h-3zM103 368h6v1h-6zM133 368h5v1h-5zM645 368h3v1h-3zM196 391h2v1h-2zM300 391h3v1h-3zM381 391h2v1h-2zM561 391h3v1h-3zM413 413h2v1h-2zM489 413h3v1h-3zM147 372h3v1h-3zM635 372h2v1h-2zM213 398h4v1h-4zM276 398h3v1h-3zM392 398h2v1h-2zM541 398h4v1h-4zM169 379h5v1h-5zM607 379h6v1h-6zM183 384h2v1h-2zM349 384h12v1h-12zM582 384h3v1h-3zM189 387h2v1h-2zM313 387h6v1h-6zM372 387h3v1h-3zM573 387h3v1h-3zM109 367h24v1h-24zM648 367h3v1h-3zM409 410h1v1h-1zM498 410h3v1h-3zM177 381h2v1h-2zM595 381h6v1h-6zM201 393h3v1h-3zM294 393h3v1h-3zM385 393h1v1h-1zM555 393h3v1h-3zM417 415h2v1h-2zM483 415h3v1h-3zM209 396h2v1h-2zM282 396h3v1h-3zM389 396h2v1h-2zM547 396h2v1h-2zM419 416h2v1h-2zM480 416h3v1h-3zM193 389h1v1h-1zM306 389h3v1h-3zM377 389h2v1h-2zM567 389h3v1h-3zM99 369h4v1h-4zM138 369h3v1h-3zM642 369h3v1h-3zM211 397h2v1h-2zM279 397h3v1h-3zM391 397h1v1h-1zM545 397h2v1h-2zM228 402h3v1h-3zM265 402h4v1h-4zM398 402h2v1h-2zM525 402h3v1h-3zM225 401h3v1h-3zM269 401h2v1h-2zM397 401h1v1h-1zM528 401h3v1h-3zM412 412h1v1h-1zM492 412h3v1h-3zM235 404h6v1h-6zM253 404h6v1h-6zM401 404h1v1h-1zM517 404h5v1h-5zM406 408h1v1h-1zM504 408h3v1h-3zM425 420h2v1h-2zM468 420h3v1h-3zM153 374h3v1h-3zM630 374h3v1h-3zM231 403h4v1h-4zM259 403h6v1h-6zM400 403h1v1h-1zM522 403h3v1h-3zM94 371h2v1h-2zM144 371h3v1h-3zM637 371h2v1h-2zM165 378h4v1h-4zM613 378h6v1h-6zM432 423h3v1h-3zM456 423h3v1h-3zM439 425h12v1h-12zM198 392h3v1h-3zM297 392h3v1h-3zM383 392h2v1h-2zM558 392h3v1h-3zM96 370h3v1h-3zM141 370h3v1h-3zM639 370h3v1h-3zM415 414h2v1h-2zM486 414h3v1h-3zM405 407h1v1h-1zM507 407h3v1h-3zM427 421h2v1h-2zM463 421h5v1h-5zM204 394h3v1h-3zM289 394h5v1h-5zM386 394h2v1h-2zM552 394h3v1h-3zM181 383h2v1h-2zM585 383h4v1h-4zM403 406h2v1h-2zM510 406h3v1h-3zM194 390h2v1h-2zM303 390h3v1h-3zM379 390h2v1h-2zM564 390h3v1h-3zM150 373h3v1h-3zM633 373h2v1h-2zM174 380h3v1h-3zM601 380h6v1h-6zM156 375h3v1h-3zM627 375h3v1h-3zM191 388h2v1h-2zM309 388h4v1h-4zM375 388h2v1h-2zM570 388h3v1h-3zM207 395h2v1h-2zM285 395h4v1h-4zM388 395h1v1h-1zM549 395h3v1h-3zM429 422h3v1h-3zM459 422h4v1h-4zM421 417h1v1h-1zM477 417h3v1h-3zM424 419h1v1h-1zM471 419h3v1h-3zM222 400h3v1h-3zM271 400h2v1h-2zM395 400h2v1h-2zM531 400h4v1h-4zM159 376h3v1h-3zM624 376h3v1h-3z" fill="#e0e01a"/>
<path d="M381 403h1v2h-1zM385 408h1v2h-1zM378 399h1v2h-1zM179 389h1v1h-1zM279 389h2v1h-2zM365 389h1v1h-1zM545 389h2v1h-2zM649 357h4v1h-4zM409 424h1v1h-1zM447 424h1v1h-1zM217 408h12v1h-12zM241 408h2v1h-2zM482 408h2v1h-2zM165 385h4v1h-4zM289 385h16v1h-16zM360 385h1v1h-1zM555 385h3v1h-3zM137 375h2v1h-2zM584 375h2v1h-2zM589 375h5v1h-5zM613 375h2v1h-2zM193 401h2v1h-2zM256 401h1v1h-1zM379 401h1v1h-1zM499 401h11v1h-11zM183 392h1v1h-1zM272 392h2v1h-2zM369 392h1v1h-1zM541 392h1v1h-1zM195 402h4v1h-4zM254 402h2v1h-2zM380 402h1v1h-1zM495 402h4v1h-4zM391 414h1v1h-1zM465 414h3v1h-3zM133 372h1v1h-1zM624 372h3v1h-3zM185 394h1v1h-1zM269 394h2v1h-2zM371 394h2v1h-2zM535 394h4v1h-4zM174 387h3v1h-3zM283 387h2v1h-2zM363 387h1v1h-1zM549 387h3v1h-3zM162 384h3v1h-3zM305 384h1v1h-1zM339 384h16v1h-16zM359 384h1v1h-1zM558 384h3v1h-3zM235 410h4v1h-4zM386 410h1v1h-1zM479 410h2v1h-2zM180 390h1v1h-1zM276 390h3v1h-3zM366 390h1v1h-1zM544 390h1v1h-1zM139 376h1v1h-1zM583 376h1v1h-1zM594 376h3v1h-3zM601 376h6v1h-6zM611 376h2v1h-2zM94 363h9v1h-9zM636 363h1v1h-1zM144 379h3v1h-3zM573 379h4v1h-4zM177 388h2v1h-2zM281 388h2v1h-2zM364 388h1v1h-1zM547 388h2v1h-2zM134 373h2v1h-2zM619 373h5v1h-5zM103 364h6v1h-6zM635 364h1v1h-1zM187 396h1v1h-1zM265 396h2v1h-2zM374 396h2v1h-2zM518 396h2v1h-2zM522 396h3v1h-3zM528 396h3v1h-3zM406 421h1v1h-1zM451 421h1v1h-1zM149 381h2v1h-2zM309 381h1v1h-1zM311 381h2v1h-2zM569 381h2v1h-2zM645 358h4v1h-4zM210 406h3v1h-3zM246 406h3v1h-3zM383 406h1v1h-1zM486 406h3v1h-3zM401 418h2v1h-2zM455 418h2v1h-2zM186 395h1v1h-1zM267 395h2v1h-2zM373 395h1v1h-1zM520 395h2v1h-2zM531 395h4v1h-4zM423 434h4v1h-4zM432 434h3v1h-3zM115 366h10v1h-10zM633 366h1v1h-1zM394 416h3v1h-3zM459 416h3v1h-3zM199 403h5v1h-5zM253 403h1v1h-1zM493 403h2v1h-2zM181 391h2v1h-2zM274 391h2v1h-2zM367 391h2v1h-2zM542 391h2v1h-2zM415 429h1v1h-1zM442 429h1v1h-1zM229 409h6v1h-6zM239 409h2v1h-2zM481 409h1v1h-1zM140 377h2v1h-2zM581 377h2v1h-2zM597 377h4v1h-4zM607 377h4v1h-4zM191 400h2v1h-2zM257 400h2v1h-2zM510 400h3v1h-3zM204 404h3v1h-3zM251 404h2v1h-2zM491 404h2v1h-2zM136 374h1v1h-1zM586 374h3v1h-3zM615 374h4v1h-4zM125 367h2v1h-2zM632 367h1v1h-1zM397 417h4v1h-4zM457 417h2v1h-2zM416 430h2v1h-2zM440 430h2v1h-2zM151 382h2v1h-2zM307 382h2v1h-2zM313 382h2v1h-2zM319 382h6v1h-6zM331 382h5v1h-5zM565 382h4v1h-4zM153 383h9v1h-9zM306 383h1v1h-1zM315 383h4v1h-4zM325 383h6v1h-6zM336 383h3v1h-3zM355 383h4v1h-4zM561 383h4v1h-4zM427 435h5v1h-5zM109 365h6v1h-6zM634 365h1v1h-1zM128 369h2v1h-2zM630 369h1v1h-1zM389 413h2v1h-2zM468 413h3v1h-3zM419 432h2v1h-2zM437 432h2v1h-2zM392 415h2v1h-2zM462 415h3v1h-3zM388 412h1v1h-1zM471 412h4v1h-4zM147 380h2v1h-2zM310 380h1v1h-1zM571 380h2v1h-2zM131 371h2v1h-2zM627 371h2v1h-2zM207 405h3v1h-3zM249 405h2v1h-2zM382 405h1v1h-1zM489 405h2v1h-2zM169 386h5v1h-5zM285 386h4v1h-4zM361 386h2v1h-2zM552 386h3v1h-3zM142 378h2v1h-2zM577 378h4v1h-4zM189 398h1v1h-1zM261 398h2v1h-2zM377 398h1v1h-1zM515 398h2v1h-2zM404 420h2v1h-2zM452 420h2v1h-2zM637 362h2v1h-2zM642 359h3v1h-3zM213 407h4v1h-4zM243 407h3v1h-3zM384 407h1v1h-1zM484 407h2v1h-2zM184 393h1v1h-1zM271 393h1v1h-1zM370 393h1v1h-1zM539 393h2v1h-2zM412 427h1v1h-1zM444 427h1v1h-1zM130 370h1v1h-1zM629 370h1v1h-1zM410 425h1v1h-1zM446 425h1v1h-1zM407 422h1v1h-1zM449 422h2v1h-2zM411 426h1v1h-1zM445 426h1v1h-1zM387 411h1v1h-1zM475 411h4v1h-4zM188 397h1v1h-1zM263 397h2v1h-2zM376 397h1v1h-1zM517 397h1v1h-1zM525 397h3v1h-3zM640 360h2v1h-2zM190 399h1v1h-1zM259 399h2v1h-2zM513 399h2v1h-2zM127 368h1v1h-1zM631 368h1v1h-1zM408 423h1v1h-1zM448 423h1v1h-1zM421 433h2v1h-2zM435 433h2v1h-2zM413 428h2v1h-2zM443 428h1v1h-1zM418 431h1v1h-1zM439 431h1v1h-1zM403 419h1v1h-1zM454 419h1v1h-1zM639 361h1v1h-1z" fill="#f0f0f0"/>
<path d="M309 486h1v2h-1zM433 502h1v2h-1zM240 501h1v2h-1zM243 497h1v2h-1zM361 493h1v2h-1zM435 499h1v2h-1zM311 486h1v2h-1zM431 505h1v2h-1zM313 489h1v2h-1zM315 492h1v2h-1zM306 490h1v2h-1zM130 490h1v1h-1zM273 490h3v1h-3zM285 490h2v1h-2zM333 490h2v1h-2zM355 490h4v1h-4zM543 490h22v1h-22zM569 490h2v1h-2zM579 490h2v1h-2zM591 490h1v1h-1zM601 490h2v1h-2zM606 490h3v1h-3zM611 490h1v1h-1zM153 498h2v1h-2zM179 498h1v1h-1zM366 498h3v1h-3zM436 498h3v1h-3zM443 498h1v1h-1zM474 498h3v1h-3zM479 498h1v1h-1zM507 498h2v1h-2zM136 495h13v1h-13zM157 495h1v1h-1zM168 495h3v1h-3zM258 495h3v1h-3zM362 495h1v1h-1zM447 495h1v1h-1zM451 495h5v1h-5zM465 495h3v1h-3zM482 495h1v1h-1zM489 495h4v1h-4zM499 495h4v1h-4zM512 495h2v1h-2zM525 495h1v1h-1zM527 495h2v1h-2zM181 500h1v1h-1zM200 500h2v1h-2zM205 500h4v1h-4zM241 500h1v1h-1zM373 500h4v1h-4zM183 502h1v1h-1zM197 502h2v1h-2zM211 502h2v1h-2zM222 502h3v1h-3zM229 502h5v1h-5zM379 502h1v1h-1zM399 502h1v1h-1zM401 502h2v1h-2zM132 492h1v1h-1zM160 492h2v1h-2zM267 492h3v1h-3zM279 492h3v1h-3zM289 492h2v1h-2zM305 492h1v1h-1zM319 492h2v1h-2zM324 492h3v1h-3zM329 492h2v1h-2zM337 492h1v1h-1zM348 492h3v1h-3zM360 492h1v1h-1zM517 492h2v1h-2zM521 492h1v1h-1zM539 492h2v1h-2zM595 492h4v1h-4zM310 485h1v1h-1zM627 485h2v1h-2zM135 494h1v1h-1zM158 494h1v1h-1zM165 494h3v1h-3zM261 494h3v1h-3zM295 494h6v1h-6zM316 494h1v1h-1zM340 494h3v1h-3zM448 494h3v1h-3zM483 494h1v1h-1zM486 494h3v1h-3zM493 494h6v1h-6zM514 494h1v1h-1zM523 494h2v1h-2zM529 494h2v1h-2zM149 496h2v1h-2zM156 496h1v1h-1zM171 496h4v1h-4zM244 496h14v1h-14zM363 496h1v1h-1zM445 496h2v1h-2zM456 496h3v1h-3zM462 496h3v1h-3zM468 496h3v1h-3zM481 496h1v1h-1zM503 496h2v1h-2zM511 496h1v1h-1zM526 496h1v1h-1zM184 503h3v1h-3zM193 503h4v1h-4zM213 503h9v1h-9zM234 503h3v1h-3zM239 503h1v1h-1zM380 503h2v1h-2zM397 503h2v1h-2zM403 503h2v1h-2zM180 499h1v1h-1zM202 499h3v1h-3zM242 499h1v1h-1zM369 499h4v1h-4zM439 499h4v1h-4zM477 499h2v1h-2zM99 486h4v1h-4zM123 486h2v1h-2zM586 486h1v1h-1zM616 486h2v1h-2zM625 486h2v1h-2zM133 493h2v1h-2zM159 493h1v1h-1zM162 493h3v1h-3zM264 493h3v1h-3zM291 493h4v1h-4zM301 493h4v1h-4zM317 493h2v1h-2zM327 493h2v1h-2zM338 493h2v1h-2zM343 493h5v1h-5zM484 493h2v1h-2zM515 493h2v1h-2zM522 493h1v1h-1zM531 493h8v1h-8zM632 482h2v1h-2zM643 482h2v1h-2zM411 507h4v1h-4zM420 507h3v1h-3zM427 507h4v1h-4zM151 497h2v1h-2zM155 497h1v1h-1zM175 497h4v1h-4zM364 497h2v1h-2zM444 497h1v1h-1zM459 497h3v1h-3zM471 497h3v1h-3zM480 497h1v1h-1zM505 497h2v1h-2zM509 497h2v1h-2zM96 487h3v1h-3zM103 487h12v1h-12zM120 487h3v1h-3zM125 487h2v1h-2zM584 487h2v1h-2zM587 487h1v1h-1zM615 487h1v1h-1zM618 487h3v1h-3zM623 487h2v1h-2zM387 506h8v1h-8zM409 506h2v1h-2zM415 506h5v1h-5zM423 508h4v1h-4zM182 501h1v1h-1zM199 501h1v1h-1zM209 501h2v1h-2zM225 501h4v1h-4zM377 501h2v1h-2zM400 501h1v1h-1zM434 501h1v1h-1zM131 491h1v1h-1zM270 491h3v1h-3zM276 491h3v1h-3zM282 491h3v1h-3zM287 491h2v1h-2zM314 491h1v1h-1zM321 491h3v1h-3zM331 491h2v1h-2zM335 491h2v1h-2zM351 491h4v1h-4zM359 491h1v1h-1zM519 491h2v1h-2zM541 491h2v1h-2zM565 491h4v1h-4zM592 491h3v1h-3zM599 491h2v1h-2zM609 491h2v1h-2zM128 489h2v1h-2zM307 489h1v1h-1zM571 489h2v1h-2zM576 489h3v1h-3zM581 489h2v1h-2zM589 489h2v1h-2zM603 489h3v1h-3zM612 489h1v1h-1zM94 488h2v1h-2zM115 488h5v1h-5zM127 488h1v1h-1zM308 488h1v1h-1zM312 488h1v1h-1zM573 488h3v1h-3zM583 488h1v1h-1zM588 488h1v1h-1zM613 488h2v1h-2zM621 488h2v1h-2zM187 504h6v1h-6zM237 504h2v1h-2zM382 504h2v1h-2zM396 504h1v1h-1zM405 504h2v1h-2zM432 504h1v1h-1zM631 483h1v1h-1zM645 483h8v1h-8zM637 480h4v1h-4zM634 481h3v1h-3zM641 481h2v1h-2zM629 484h2v1h-2zM384 505h3v1h-3zM395 505h1v1h-1zM407 505h2v1h-2z" fill="#e81ee8"/>
<path d="M312 482h1v3h-1zM479 496h1v2h-1zM240 505h1v3h-1zM157 500h1v3h-1zM244 495h1v2h-1zM590 484h1v2h-1zM362 495h1v2h-1zM313 485h1v4h-1zM239 508h1v3h-1zM156 503h1v2h-1zM525 494h1v2h-1zM483 488h1v2h-1zM243 497h1v3h-1zM319 492h1v2h-1zM643 473h1v2h-1zM612 485h1v2h-1zM289 487h1v2h-1zM364 499h1v2h-1zM201 505h1v2h-1zM304 491h1v2h-1zM398 507h1v2h-1zM309 479h1v2h-1zM308 481h1v3h-1zM316 495h1v2h-1zM615 480h1v2h-1zM361 493h1v2h-1zM314 489h1v3h-1zM524 492h1v2h-1zM631 475h1v2h-1zM611 487h1v2h-1zM311 479h1v3h-1zM155 505h1v2h-1zM242 500h1v3h-1zM588 481h1v2h-1zM315 492h1v3h-1zM337 490h1v2h-1zM482 490h1v2h-1zM360 491h1v2h-1zM436 495h1v2h-1zM241 503h1v2h-1zM523 490h1v2h-1zM307 484h1v2h-1zM129 492h1v2h-1zM310 477h1v2h-1zM435 497h1v3h-1zM363 497h1v2h-1zM238 511h1v2h-1zM432 505h1v3h-1zM181 506h1v2h-1zM154 507h1v2h-1zM481 492h1v2h-1zM128 490h1v2h-1zM306 486h1v3h-1zM431 508h1v3h-1zM591 486h1v2h-1zM583 481h1v2h-1zM198 509h1v2h-1zM587 479h1v2h-1zM359 489h1v2h-1zM614 482h1v2h-1zM127 488h1v2h-1zM160 494h1v2h-1zM434 500h1v3h-1zM522 488h1v2h-1zM179 503h1v2h-1zM396 510h1v2h-1zM183 509h1v2h-1zM521 486h1v2h-1zM305 489h1v2h-1zM126 486h1v2h-1zM433 503h1v2h-1zM395 512h1v2h-1zM399 505h1v2h-1zM517 488h1v2h-1zM159 496h1v2h-1zM132 496h1v2h-1zM125 484h1v2h-1zM158 498h1v2h-1zM135 500h1v2h-1zM480 494h1v2h-1zM430 511h1v2h-1zM211 509h1v1h-1zM222 509h1v1h-1zM233 509h2v1h-2zM381 509h1v1h-1zM397 509h1v1h-1zM405 509h1v1h-1zM105 484h4v1h-4zM122 484h2v1h-2zM271 484h1v1h-1zM276 484h1v1h-1zM286 484h1v1h-1zM544 484h9v1h-9zM559 484h4v1h-4zM571 484h1v1h-1zM578 484h2v1h-2zM581 484h1v1h-1zM613 484h1v1h-1zM621 484h1v1h-1zM623 484h1v1h-1zM136 502h13v1h-13zM177 502h2v1h-2zM367 502h1v1h-1zM187 513h2v1h-2zM192 513h3v1h-3zM386 513h2v1h-2zM421 513h2v1h-2zM426 513h3v1h-3zM163 496h2v1h-2zM438 496h3v1h-3zM443 496h1v1h-1zM473 496h2v1h-2zM507 496h1v1h-1zM509 496h1v1h-1zM526 496h1v1h-1zM636 471h3v1h-3zM641 471h1v1h-1zM97 482h5v1h-5zM274 482h1v1h-1zM573 482h1v1h-1zM575 482h2v1h-2zM619 482h1v1h-1zM625 482h1v1h-1zM184 511h1v1h-1zM197 511h1v1h-1zM214 511h7v1h-7zM236 511h2v1h-2zM383 511h2v1h-2zM408 511h3v1h-3zM415 511h4v1h-4zM165 497h2v1h-2zM441 497h2v1h-2zM475 497h2v1h-2zM508 497h1v1h-1zM265 488h2v1h-2zM280 488h1v1h-1zM333 488h1v1h-1zM335 488h1v1h-1zM355 488h4v1h-4zM485 488h1v1h-1zM540 488h1v1h-1zM592 488h1v1h-1zM601 488h2v1h-2zM607 488h2v1h-2zM94 483h3v1h-3zM102 483h3v1h-3zM124 483h1v1h-1zM272 483h2v1h-2zM275 483h1v1h-1zM572 483h1v1h-1zM577 483h1v1h-1zM582 483h1v1h-1zM589 483h1v1h-1zM620 483h1v1h-1zM624 483h1v1h-1zM182 508h1v1h-1zM199 508h1v1h-1zM209 508h2v1h-2zM223 508h2v1h-2zM231 508h2v1h-2zM379 508h2v1h-2zM404 508h1v1h-1zM131 495h1v1h-1zM161 495h2v1h-2zM245 495h2v1h-2zM317 495h1v1h-1zM437 495h1v1h-1zM444 495h1v1h-1zM459 495h3v1h-3zM471 495h2v1h-2zM505 495h2v1h-2zM510 495h1v1h-1zM527 495h1v1h-1zM189 514h3v1h-3zM388 514h7v1h-7zM423 514h3v1h-3zM130 494h1v1h-1zM247 494h6v1h-6zM297 494h3v1h-3zM318 494h1v1h-1zM340 494h2v1h-2zM445 494h1v1h-1zM456 494h3v1h-3zM462 494h3v1h-3zM468 494h3v1h-3zM504 494h1v1h-1zM511 494h2v1h-2zM528 494h1v1h-1zM253 493h5v1h-5zM295 493h2v1h-2zM300 493h3v1h-3zM339 493h1v1h-1zM342 493h3v1h-3zM446 493h1v1h-1zM453 493h3v1h-3zM465 493h3v1h-3zM490 493h1v1h-1zM503 493h1v1h-1zM513 493h1v1h-1zM529 493h1v1h-1zM152 506h1v1h-1zM205 506h2v1h-2zM226 506h2v1h-2zM377 506h1v1h-1zM402 506h1v1h-1zM261 491h2v1h-2zM292 491h1v1h-1zM320 491h1v1h-1zM325 491h2v1h-2zM329 491h1v1h-1zM347 491h2v1h-2zM448 491h2v1h-2zM488 491h1v1h-1zM493 491h2v1h-2zM498 491h3v1h-3zM515 491h1v1h-1zM531 491h1v1h-1zM597 491h2v1h-2zM585 479h1v1h-1zM616 479h1v1h-1zM628 479h1v1h-1zM263 490h1v1h-1zM291 490h1v1h-1zM321 490h1v1h-1zM323 490h2v1h-2zM330 490h1v1h-1zM349 490h2v1h-2zM487 490h1v1h-1zM495 490h3v1h-3zM516 490h1v1h-1zM532 490h7v1h-7zM595 490h2v1h-2zM599 490h1v1h-1zM584 480h1v1h-1zM617 480h1v1h-1zM627 480h1v1h-1zM258 492h3v1h-3zM293 492h2v1h-2zM303 492h1v1h-1zM327 492h2v1h-2zM338 492h1v1h-1zM345 492h2v1h-2zM447 492h1v1h-1zM450 492h3v1h-3zM489 492h1v1h-1zM491 492h2v1h-2zM501 492h2v1h-2zM514 492h1v1h-1zM530 492h1v1h-1zM149 503h1v1h-1zM368 503h2v1h-2zM114 486h3v1h-3zM119 486h2v1h-2zM268 486h1v1h-1zM278 486h1v1h-1zM283 486h1v1h-1zM288 486h1v1h-1zM519 486h1v1h-1zM542 486h1v1h-1zM565 486h2v1h-2zM569 486h1v1h-1zM604 486h1v1h-1zM264 489h1v1h-1zM290 489h1v1h-1zM322 489h1v1h-1zM331 489h2v1h-2zM336 489h1v1h-1zM351 489h4v1h-4zM486 489h1v1h-1zM539 489h1v1h-1zM593 489h2v1h-2zM600 489h1v1h-1zM609 489h2v1h-2zM151 505h1v1h-1zM180 505h1v1h-1zM203 505h2v1h-2zM373 505h4v1h-4zM401 505h1v1h-1zM174 501h3v1h-3zM365 501h2v1h-2zM586 478h1v1h-1zM629 478h1v1h-1zM109 485h5v1h-5zM121 485h1v1h-1zM269 485h2v1h-2zM277 485h1v1h-1zM284 485h2v1h-2zM287 485h1v1h-1zM520 485h1v1h-1zM543 485h1v1h-1zM553 485h6v1h-6zM563 485h2v1h-2zM570 485h1v1h-1zM580 485h1v1h-1zM622 485h1v1h-1zM117 487h2v1h-2zM267 487h1v1h-1zM279 487h1v1h-1zM281 487h2v1h-2zM334 487h1v1h-1zM484 487h1v1h-1zM518 487h1v1h-1zM541 487h1v1h-1zM567 487h2v1h-2zM603 487h1v1h-1zM605 487h2v1h-2zM574 481h1v1h-1zM618 481h1v1h-1zM626 481h1v1h-1zM185 512h2v1h-2zM195 512h2v1h-2zM385 512h1v1h-1zM411 512h4v1h-4zM419 512h2v1h-2zM429 512h1v1h-1zM634 472h2v1h-2zM642 472h1v1h-1zM150 504h1v1h-1zM202 504h1v1h-1zM370 504h3v1h-3zM400 504h1v1h-1zM212 510h2v1h-2zM221 510h1v1h-1zM235 510h1v1h-1zM382 510h1v1h-1zM406 510h2v1h-2zM134 499h1v1h-1zM169 499h2v1h-2zM171 500h3v1h-3zM133 498h1v1h-1zM167 498h2v1h-2zM477 498h2v1h-2zM153 507h1v1h-1zM200 507h1v1h-1zM207 507h2v1h-2zM225 507h1v1h-1zM228 507h3v1h-3zM378 507h1v1h-1zM403 507h1v1h-1zM645 476h1v1h-1zM630 477h1v1h-1zM646 477h7v1h-7zM633 473h1v1h-1zM639 470h2v1h-2zM632 474h1v1h-1zM644 475h1v1h-1z" fill="#e0e01a"/>
<path d="M279 476h1v3h-1zM644 468h1v3h-1zM310 463h1v3h-1zM362 499h1v4h-1zM510 493h1v2h-1zM313 478h1v6h-1zM282 477h1v2h-1zM305 485h1v4h-1zM179 510h1v2h-1zM396 516h1v4h-1zM201 506h1v2h-1zM275 465h1v3h-1zM640 459h1v2h-1zM240 503h1v6h-1zM126 491h1v4h-1zM160 494h1v3h-1zM518 479h1v2h-1zM632 464h1v2h-1zM433 499h1v5h-1zM487 481h1v3h-1zM244 484h1v3h-1zM399 506h1v4h-1zM621 481h1v2h-1zM468 487h1v2h-1zM590 483h1v4h-1zM434 494h1v5h-1zM225 508h1v2h-1zM339 494h1v2h-1zM312 472h1v6h-1zM521 478h1v4h-1zM133 511h1v2h-1zM395 520h1v3h-1zM564 478h1v2h-1zM589 479h1v4h-1zM239 509h1v5h-1zM263 476h1v2h-1zM483 477h1v4h-1zM156 512h1v5h-1zM525 493h1v4h-1zM178 508h1v2h-1zM243 487h1v6h-1zM578 478h1v2h-1zM358 485h1v2h-1zM601 490h1v2h-1zM221 515h1v2h-1zM316 496h1v4h-1zM319 493h1v2h-1zM579 480h1v2h-1zM309 466h1v5h-1zM627 474h1v2h-1zM289 479h1v3h-1zM361 495h1v4h-1zM403 509h1v2h-1zM513 488h1v2h-1zM575 472h1v2h-1zM193 520h1v2h-1zM479 493h1v4h-1zM471 491h1v2h-1zM274 463h1v2h-1zM155 517h1v5h-1zM304 489h1v3h-1zM315 490h1v6h-1zM159 497h1v5h-1zM338 492h1v2h-1zM586 468h1v3h-1zM620 479h1v2h-1zM286 472h1v2h-1zM567 482h1v2h-1zM267 468h1v2h-1zM335 486h1v2h-1zM484 475h1v2h-1zM570 479h1v2h-1zM517 481h1v2h-1zM129 501h1v4h-1zM646 473h1v2h-1zM509 495h1v2h-1zM132 509h1v2h-1zM278 473h1v3h-1zM540 482h1v2h-1zM125 488h1v3h-1zM574 471h1v2h-1zM394 523h1v2h-1zM577 476h1v2h-1zM398 510h1v3h-1zM524 489h1v4h-1zM505 493h1v2h-1zM308 471h1v4h-1zM360 491h1v4h-1zM486 479h1v2h-1zM402 507h1v2h-1zM330 489h1v2h-1zM432 504h1v6h-1zM528 494h1v2h-1zM612 483h1v3h-1zM196 516h1v2h-1zM616 472h1v2h-1zM364 507h1v2h-1zM314 484h1v6h-1zM307 475h1v5h-1zM631 466h1v2h-1zM611 486h1v3h-1zM277 471h1v2h-1zM520 476h1v2h-1zM592 491h1v3h-1zM444 486h1v2h-1zM615 474h1v3h-1zM405 513h1v2h-1zM478 497h1v2h-1zM154 522h1v3h-1zM523 486h1v3h-1zM158 502h1v5h-1zM622 483h1v2h-1zM288 476h1v3h-1zM337 490h1v2h-1zM482 481h1v4h-1zM120 492h1v2h-1zM222 513h1v2h-1zM318 495h1v2h-1zM340 496h1v2h-1zM619 477h1v2h-1zM581 479h1v2h-1zM603 487h1v2h-1zM436 485h1v3h-1zM573 473h1v2h-1zM626 476h1v2h-1zM397 513h1v3h-1zM334 484h1v2h-1zM292 487h1v2h-1zM512 490h1v2h-1zM481 485h1v4h-1zM242 493h1v5h-1zM588 475h1v4h-1zM580 481h1v2h-1zM200 508h1v2h-1zM431 510h1v5h-1zM266 470h1v2h-1zM404 511h1v2h-1zM569 481h1v2h-1zM435 488h1v6h-1zM322 487h1v2h-1zM585 470h1v2h-1zM311 466h1v6h-1zM241 498h1v5h-1zM630 468h1v2h-1zM127 495h1v3h-1zM199 510h1v2h-1zM485 477h1v2h-1zM516 483h1v2h-1zM306 480h1v5h-1zM184 521h1v2h-1zM645 471h1v2h-1zM181 514h1v3h-1zM527 496h1v2h-1zM291 484h1v3h-1zM543 477h1v2h-1zM576 474h1v2h-1zM238 514h1v3h-1zM400 504h1v2h-1zM157 507h1v5h-1zM317 497h1v2h-1zM599 493h1v2h-1zM634 460h1v2h-1zM287 474h1v2h-1zM401 505h1v2h-1zM447 481h1v2h-1zM614 477h1v3h-1zM625 478h1v2h-1zM531 489h1v2h-1zM123 487h1v2h-1zM363 503h1v4h-1zM618 475h1v2h-1zM610 489h1v2h-1zM568 483h1v2h-1zM336 488h1v2h-1zM359 487h1v4h-1zM443 488h1v2h-1zM130 505h1v2h-1zM265 472h1v2h-1zM276 468h1v3h-1zM613 480h1v3h-1zM515 485h1v2h-1zM119 494h1v2h-1zM480 489h1v4h-1zM591 487h1v4h-1zM522 482h1v4h-1zM629 470h1v2h-1zM198 512h1v2h-1zM587 471h1v4h-1zM183 519h1v2h-1zM519 477h1v2h-1zM321 489h1v2h-1zM224 510h1v2h-1zM572 475h1v2h-1zM583 474h1v3h-1zM617 473h1v2h-1zM182 517h1v2h-1zM633 462h1v2h-1zM151 520h1v2h-1zM202 504h1v2h-1zM446 483h1v2h-1zM624 480h1v2h-1zM290 482h1v2h-1zM122 489h1v2h-1zM264 474h1v2h-1zM320 491h1v2h-1zM628 472h1v2h-1zM197 514h1v2h-1zM582 477h1v2h-1zM643 466h1v2h-1zM571 477h1v2h-1zM490 488h1v2h-1zM539 484h1v2h-1zM136 517h1v2h-1zM623 482h1v2h-1zM642 463h1v3h-1zM128 498h1v3h-1zM285 473h1v2h-1zM135 515h1v2h-1zM584 472h1v2h-1zM333 485h1v2h-1zM542 479h1v2h-1zM280 479h1v2h-1zM530 491h1v2h-1zM489 486h1v2h-1zM430 515h1v3h-1zM641 461h1v2h-1zM134 513h1v2h-1zM131 507h1v2h-1zM124 486h1v2h-1zM180 512h1v2h-1zM488 484h1v2h-1zM526 497h1v2h-1zM212 514h1v1h-1zM236 514h1v1h-1zM370 514h2v1h-2zM97 486h2v1h-2zM102 486h1v1h-1zM354 486h3v1h-3zM437 486h1v1h-1zM456 486h1v1h-1zM464 486h2v1h-2zM467 486h1v1h-1zM493 486h2v1h-2zM498 486h1v1h-1zM537 486h2v1h-2zM604 486h1v1h-1zM272 464h2v1h-2zM96 487h1v1h-1zM103 487h1v1h-1zM332 487h1v1h-1zM352 487h2v1h-2zM438 487h1v1h-1zM457 487h2v1h-2zM463 487h1v1h-1zM492 487h1v1h-1zM499 487h1v1h-1zM514 487h1v1h-1zM534 487h3v1h-3zM605 487h2v1h-2zM257 481h2v1h-2zM449 481h2v1h-2zM541 481h1v1h-1zM566 481h1v1h-1zM260 479h2v1h-2zM281 479h1v1h-1zM555 479h2v1h-2zM94 489h1v1h-1zM105 489h1v1h-1zM293 489h1v1h-1zM324 489h1v1h-1zM350 489h1v1h-1zM441 489h1v1h-1zM460 489h1v1h-1zM469 489h1v1h-1zM501 489h1v1h-1zM602 489h1v1h-1zM608 489h2v1h-2zM95 488h1v1h-1zM104 488h1v1h-1zM323 488h1v1h-1zM331 488h1v1h-1zM351 488h1v1h-1zM439 488h2v1h-2zM459 488h1v1h-1zM461 488h2v1h-2zM491 488h1v1h-1zM500 488h1v1h-1zM532 488h2v1h-2zM607 488h1v1h-1zM209 511h1v1h-1zM233 511h1v1h-1zM367 511h1v1h-1zM213 515h1v1h-1zM237 515h1v1h-1zM372 515h3v1h-3zM406 515h1v1h-1zM139 517h10v1h-10zM217 517h4v1h-4zM377 517h1v1h-1zM408 517h1v1h-1zM416 517h2v1h-2zM419 517h1v1h-1zM150 519h1v1h-1zM194 519h1v1h-1zM379 519h1v1h-1zM411 519h1v1h-1zM413 519h2v1h-2zM421 519h2v1h-2zM427 519h1v1h-1zM115 495h2v1h-2zM161 495h1v1h-1zM343 495h1v1h-1zM474 495h1v1h-1zM506 495h1v1h-1zM597 495h2v1h-2zM137 518h2v1h-2zM149 518h1v1h-1zM195 518h1v1h-1zM378 518h1v1h-1zM409 518h2v1h-2zM415 518h1v1h-1zM420 518h1v1h-1zM428 518h2v1h-2zM189 524h2v1h-2zM387 524h7v1h-7zM99 485h1v1h-1zM101 485h1v1h-1zM357 485h1v1h-1zM445 485h1v1h-1zM455 485h1v1h-1zM466 485h1v1h-1zM495 485h1v1h-1zM497 485h1v1h-1zM551 477h2v1h-2zM559 477h2v1h-2zM563 477h1v1h-1zM247 483h6v1h-6zM452 483h2v1h-2zM111 493h2v1h-2zM297 493h1v1h-1zM299 493h2v1h-2zM346 493h1v1h-1zM472 493h1v1h-1zM529 493h1v1h-1zM593 493h1v1h-1zM211 513h1v1h-1zM235 513h1v1h-1zM369 513h1v1h-1zM259 480h1v1h-1zM448 480h1v1h-1zM565 480h1v1h-1zM214 516h3v1h-3zM375 516h2v1h-2zM407 516h1v1h-1zM418 516h1v1h-1zM253 482h4v1h-4zM451 482h1v1h-1zM283 476h1v1h-1zM544 476h7v1h-7zM561 476h2v1h-2zM210 512h1v1h-1zM223 512h1v1h-1zM234 512h1v1h-1zM368 512h1v1h-1zM163 497h2v1h-2zM477 497h1v1h-1zM508 497h1v1h-1zM177 508h1v1h-1zM206 508h1v1h-1zM227 508h2v1h-2zM380 520h1v1h-1zM412 520h1v1h-1zM423 520h1v1h-1zM425 520h2v1h-2zM208 510h1v1h-1zM231 510h2v1h-2zM366 510h1v1h-1zM635 460h2v1h-2zM152 522h1v1h-1zM185 522h1v1h-1zM192 522h1v1h-1zM382 522h2v1h-2zM173 506h2v1h-2zM204 506h1v1h-1zM153 523h1v1h-1zM186 523h3v1h-3zM191 523h1v1h-1zM384 523h3v1h-3zM647 474h6v1h-6zM109 492h2v1h-2zM296 492h1v1h-1zM301 492h2v1h-2zM328 492h1v1h-1zM347 492h1v1h-1zM504 492h1v1h-1zM511 492h1v1h-1zM600 492h1v1h-1zM170 503h1v1h-1zM107 491h2v1h-2zM121 491h1v1h-1zM295 491h1v1h-1zM303 491h1v1h-1zM327 491h1v1h-1zM329 491h1v1h-1zM348 491h1v1h-1zM503 491h1v1h-1zM262 478h1v1h-1zM553 478h2v1h-2zM557 478h2v1h-2zM113 494h2v1h-2zM298 494h1v1h-1zM344 494h2v1h-2zM473 494h1v1h-1zM594 494h3v1h-3zM284 475h1v1h-1zM106 490h1v1h-1zM294 490h1v1h-1zM325 490h2v1h-2zM349 490h1v1h-1zM442 490h1v1h-1zM470 490h1v1h-1zM502 490h1v1h-1zM100 484h1v1h-1zM245 484h2v1h-2zM454 484h1v1h-1zM496 484h1v1h-1zM117 496h2v1h-2zM162 496h1v1h-1zM341 496h2v1h-2zM475 496h2v1h-2zM507 496h1v1h-1zM637 459h3v1h-3zM269 466h2v1h-2zM165 498h1v1h-1zM207 509h1v1h-1zM229 509h2v1h-2zM365 509h1v1h-1zM172 505h1v1h-1zM203 505h1v1h-1zM175 507h2v1h-2zM205 507h1v1h-1zM226 507h1v1h-1zM171 504h1v1h-1zM271 465h1v1h-1zM381 521h1v1h-1zM424 521h1v1h-1zM166 499h1v1h-1zM167 500h1v1h-1zM268 467h1v1h-1zM168 501h1v1h-1zM169 502h1v1h-1z" fill="#f0f0f0"/>
</g>
<g shape-rendering="crispEdges"><path d="M27 440h4v8h-4zM25 442h8v4h-8zM26 441h6v6h-6z" fill="#000"/><path d="M27 441h4v6h-4zM26 442h6v4h-6z" fill="#fff"/><path d="M28 442h2v4h-2zM27 443h4v2h-4zM28 437h1v2h-1zM28 449h1v2h-1zM22 443h2v1h-2zM34 443h2v1h-2zM23 438h1v1h-1zM24 439h1v1h-1zM34 438h1v1h-1zM33 439h1v1h-1zM23 449h1v1h-1zM24 448h1v1h-1zM34 449h1v1h-1zM33 448h1v1h-1z" fill="#ff0000"/></g>
<rect x="190" y="1.5" width="11" height="12" fill="#fff" stroke="#00008c"/><path d="M190 14.5h12v-12" stroke="#808080" fill="none"/><path d="M190.5 7.5l3-3.5 2.5 2.5 3-1.5h2" stroke="#f01010" fill="none"/><path d="M190.5 11l3-3.5 2.5 2.5 3-1.5h2" stroke="#1010f0" fill="none"/>
<rect x="617.5" y="1.5" width="13" height="13" fill="#000" stroke="#b8b8b8"/>
<rect x="633.5" y="1.5" width="13" height="13" fill="#000" stroke="#b8b8b8"/>
<rect x="649.5" y="1.5" width="13" height="13" fill="#000" stroke="#b8b8b8"/>
<rect x="665.5" y="1.5" width="13" height="13" fill="#000" stroke="#b8b8b8"/>
<path d="M623 3h2v3h-2zM623 10h2v3h-2zM619 7h3v2h-3zM626 7h3v2h-3zM623 7h2v2h-2z" fill="#9a9a9a" shape-rendering="crispEdges"/>
<path d="M636.5 3.5v9.5M635 11.5h10M640.5 5v5" stroke="#b8b8b8" fill="none"/><path d="M644 4.5v6l-3-3zM636.5 2.5l1.8 2.2h-3.6zM646 11.5l-2.2 1.8v-3.6z" fill="#b8b8b8"/>
<path d="M652.5 3.5v9.5M651 11.5h10" stroke="#b8b8b8" fill="none"/><path d="M655.5 4l5 3.3-5 3.3zM652.5 2.5l1.8 2.2h-3.6zM662 11.5l-2.2 1.8v-3.6z" fill="#b8b8b8"/>
<rect x="667.5" y="3.5" width="3" height="9" fill="none" stroke="#b8b8b8"/><path d="M670 8h4.5" stroke="#b8b8b8" stroke-width="1.5" fill="none"/><path d="M673.5 5l3.3 3-3.3 3z" fill="#b8b8b8"/>
</svg>
<div class="side"></div>
<div class="tab" style="top:0;height:51px"><div style="padding-top:6px"><span>分</span><span>时</span><span>图</span></div></div>
<div class="tab sel" style="top:51px;height:46px"><div style="padding-top:4px"><span style="font-family:'Liberation Mono',monospace;font-size:12px;text-indent:0;position:relative;top:1px;left:-.3px">K</span><span>线</span><span>图</span></div></div>
<div class="tab" style="top:97px;height:52px"><div style="padding-top:7.5px"><span>闪</span><span>电</span><span>图</span></div></div>
<div class="tab" style="top:150px;height:64px"><div style="padding-top:6px"><span>合</span><span>约</span><span>资</span><span>料</span></div></div>
<div style="position:absolute;left:0;top:149px;width:20px;height:1px;background:#3a3b40"></div>

<div class="hd" style="left:92.3px;top:3.5px">欧元美元<span class="or" style="margin-left:2px">&lt;日线&gt;</span></div>
<div class="hd" style="left:204.5px;top:3px;letter-spacing:.155px">MA(5,10,20,50,100,200)</div>
<div class="hd" style="left:342.7px;top:3px;letter-spacing:.25px">MA5:1.1417</div>
<div class="hd yl" style="left:418.7px;top:3px;letter-spacing:.19px">MA10:1.136</div>
<div style="position:absolute;left:539px;top:0;width:73px;height:15px;border:1px solid #8c8c8c;border-top:none;box-sizing:content-box;background:#060606"></div>
<div class="hd" style="left:546.5px;top:1.2px;color:#8e8e8e">全部主题<span style="font-size:14px;margin-left:-1.5px;line-height:10px;position:relative;top:.5px">▼</span></div>

<div class="hd" style="left:92.7px;top:330px;letter-spacing:.11px">MACD(26,12,9)</div>
<div class="hd" style="left:183.2px;top:330px;letter-spacing:-.22px">DIFF:0.0022</div>
<div class="hd yl" style="left:256.7px;top:330px;letter-spacing:-.07px">DEA:0.0007</div>
<div class="hd mg" style="left:330px;top:330px;letter-spacing:.13px">MACD:0.0029</div>
<div class="hd" style="left:92.7px;top:440px;letter-spacing:-.11px">RSI(6,12,24)</div>
<div class="hd" style="left:165.3px;top:440px;letter-spacing:-.22px">RSI1:59.9151</div>
<div class="hd yl" style="left:246.7px;top:440px;letter-spacing:-.05px">RSI2:57.6104</div>
<div class="hd mg" style="left:328.5px;top:440px;letter-spacing:.02px">RSI3:52.3559</div>
<div class="t ax" style="right:663.2px;top:14px">1.2002</div>
<div class="t ax" style="left:684px;top:14px">1.2002</div>
<div class="t ax" style="right:663.2px;top:75px">1.1828</div>
<div class="t ax" style="left:684px;top:75px">1.1828</div>
<div class="t ax" style="right:663.2px;top:136px">1.1654</div>
<div class="t ax" style="left:684px;top:136px">1.1654</div>
<div class="t ax" style="right:663.2px;top:197px">1.1481</div>
<div class="t ax" style="left:684px;top:197px">1.1481</div>
<div class="t ax" style="right:663.2px;top:258px">1.1307</div>
<div class="t ax" style="left:684px;top:258px">1.1307</div>
<div class="t ax" style="right:663.2px;top:341px">0.0035</div>
<div class="t ax" style="left:684px;top:341px">0.0035</div>
<div class="t ax" style="right:663.2px;top:370px">-0.0011</div>
<div class="t ax" style="left:684px;top:370px">-0.0011</div>
<div class="t ax" style="right:663.2px;top:399px">-0.0058</div>
<div class="t ax" style="left:684px;top:399px">-0.0058</div>
<div class="t ax" style="right:663.2px;top:451px">74.0878</div>
<div class="t ax" style="left:684px;top:451px">74.0878</div>
<div class="t ax" style="right:663.2px;top:484px">44.0897</div>
<div class="t ax" style="left:684px;top:484px">44.0897</div>
<div class="t ax b" style="left:99.6px;top:60.5px">1.1851</div>
<div class="t ax b" style="left:605.2px;top:189.5px">1.1483</div>
<div class="t ax b gr" style="left:429.6px;top:309.5px">1.1186</div>
<div class="t dt" style="left:199px;top:527px">2021/10</div>
<div class="t dt" style="left:325px;top:527px">2021/11</div>
<div class="t dt" style="left:456.5px;top:527px">2021/12</div>
<div class="t dt" style="left:595px;top:527px">2022/01</div>
<div style="position:absolute;left:20px;top:526px;width:69px;height:18px;border-right:1px solid #232323;background:#080808"></div>
<div class="hd or" style="left:34.3px;top:530px;font-weight:bold;color:#f5a623">日线</div>
<svg width="10" height="10" style="left:64.5px;top:531.5px"><path d="M1 8.3L4.7 0.7L8.4 8.3z" fill="#f7bc55"/></svg>

<div class="tb cj" style="left:20px;width:40px;background:#444751;color:#fff"><span class="g">指标</span></div>
<div class="tb cj" style="left:60px;width:40px"><span class="g">模板</span></div>
<div class="tb" style="left:100px;width:58px;color:#f0a030"><span class="ng"><span>VIP</span><span style="font-family:'Noto Sans CJK SC',sans-serif;letter-spacing:0">指标</span></span></div>
<div class="tb" style="left:158px;width:28px"><span class="g">MA</span></div>
<div class="tb" style="left:186px;width:40px"><span class="g">MACD</span></div>
<div class="tb" style="left:226px;width:40px"><span class="g">BOLL</span></div>
<div class="tb" style="left:266px;width:34px"><span class="g">VOL</span></div>
<div class="tb" style="left:300px;width:40px"><span class="g">BIAS</span></div>
<div class="tb" style="left:340px;width:34px"><span class="g">CCI</span></div>
<div class="tb" style="left:374px;width:34px"><span class="g">KDJ</span></div>
<div class="tb" style="left:408px;width:40px;text-align:left;padding-left:8px"><span class="g">LW&amp;</span></div>
<div class="tb" style="left:448px;width:34px"><span class="g">RSI</span></div>
<div class="tb" style="left:482px;width:28px"><span class="g">CR</span></div>
<div class="tb" style="left:510px;width:34px"><span class="g">PSY</span></div>
<div class="tb cj" style="left:544px;width:40px"><span class="g">设置</span></div>
<div style="position:absolute;left:20px;top:560px;width:730px;height:1px;background:#242424"></div>
</body></html>
